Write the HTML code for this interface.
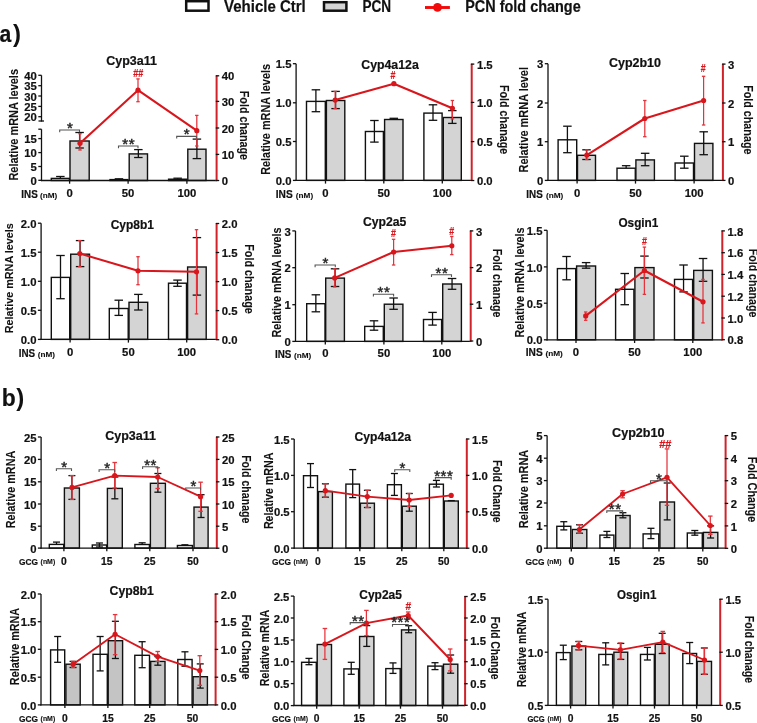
<!DOCTYPE html>
<html><head><meta charset="utf-8"><style>
html,body{margin:0;padding:0;background:#fff;}
svg{display:block;will-change:transform;}
text{font-family:"Liberation Sans", sans-serif;}
</style></head><body>
<svg width="757" height="723" viewBox="0 0 757 723">
<rect x="0" y="0" width="757" height="723" fill="#fff"/>
<rect x="186.2" y="1.2" width="22.3" height="9.5" fill="#fff" stroke="#111" stroke-width="2.5"/>
<text x="224.00" y="11.90" font-size="15.8" font-weight="bold" fill="#111" text-anchor="start" stroke="#111" stroke-width="0.2" textLength="81.8" lengthAdjust="spacingAndGlyphs" >Vehicle Ctrl</text>
<rect x="324" y="2.2" width="22.4" height="8.5" fill="#d4d4d4" stroke="#111" stroke-width="2.5"/>
<text x="362.40" y="11.90" font-size="15.8" font-weight="bold" fill="#111" text-anchor="start" stroke="#111" stroke-width="0.2" textLength="28.7" lengthAdjust="spacingAndGlyphs" >PCN</text>
<line x1="425.00" y1="7.50" x2="449.90" y2="7.50" stroke="#f20a0a" stroke-width="2.9" />
<circle cx="437.5" cy="7.4" r="4.4" fill="#f20a0a"/>
<text x="465.20" y="11.90" font-size="15.8" font-weight="bold" fill="#111" text-anchor="start" stroke="#111" stroke-width="0.2" textLength="115.5" lengthAdjust="spacingAndGlyphs" >PCN fold change</text>
<text x="-0.60" y="41.80" font-size="24" font-weight="bold" fill="#111" text-anchor="start" stroke="#111" stroke-width="0.2" textLength="11.8" lengthAdjust="spacingAndGlyphs" >a</text>
<text x="12.90" y="41.60" font-size="24" font-weight="bold" fill="#111" text-anchor="start" >)</text>
<text x="1.70" y="405.90" font-size="24" font-weight="bold" fill="#111" text-anchor="start" stroke="#111" stroke-width="0.2" textLength="14" lengthAdjust="spacingAndGlyphs" >b</text>
<text x="16.30" y="405.90" font-size="24" font-weight="bold" fill="#111" text-anchor="start" >)</text>
<rect x="51.30" y="178.40" width="18.10" height="2.10" fill="#fff" stroke="#111" stroke-width="1.4"/>
<rect x="110.00" y="179.60" width="17.90" height="0.90" fill="#fff" stroke="#111" stroke-width="1.4"/>
<rect x="168.60" y="179.20" width="18.10" height="1.30" fill="#fff" stroke="#111" stroke-width="1.4"/>
<rect x="70.00" y="141.00" width="19.20" height="39.50" fill="#d4d4d4" stroke="#111" stroke-width="1.4"/>
<rect x="129.20" y="153.90" width="18.30" height="26.60" fill="#d4d4d4" stroke="#111" stroke-width="1.4"/>
<rect x="187.80" y="149.20" width="18.20" height="31.30" fill="#d4d4d4" stroke="#111" stroke-width="1.4"/>
<line x1="60.35" y1="176.50" x2="60.35" y2="178.40" stroke="#111" stroke-width="1.3" />
<line x1="56.10" y1="176.50" x2="64.60" y2="176.50" stroke="#111" stroke-width="1.3" />
<line x1="118.95" y1="178.80" x2="118.95" y2="179.60" stroke="#111" stroke-width="1.3" />
<line x1="114.70" y1="178.80" x2="123.20" y2="178.80" stroke="#111" stroke-width="1.3" />
<line x1="177.65" y1="178.20" x2="177.65" y2="179.20" stroke="#111" stroke-width="1.3" />
<line x1="173.40" y1="178.20" x2="181.90" y2="178.20" stroke="#111" stroke-width="1.3" />
<line x1="79.60" y1="132.50" x2="79.60" y2="148.00" stroke="#111" stroke-width="1.3" />
<line x1="75.35" y1="132.50" x2="83.85" y2="132.50" stroke="#111" stroke-width="1.3" />
<line x1="75.35" y1="148.00" x2="83.85" y2="148.00" stroke="#111" stroke-width="1.3" />
<line x1="138.35" y1="149.60" x2="138.35" y2="157.50" stroke="#111" stroke-width="1.3" />
<line x1="134.10" y1="149.60" x2="142.60" y2="149.60" stroke="#111" stroke-width="1.3" />
<line x1="134.10" y1="157.50" x2="142.60" y2="157.50" stroke="#111" stroke-width="1.3" />
<line x1="196.90" y1="139.10" x2="196.90" y2="158.60" stroke="#111" stroke-width="1.3" />
<line x1="192.65" y1="139.10" x2="201.15" y2="139.10" stroke="#111" stroke-width="1.3" />
<line x1="192.65" y1="158.60" x2="201.15" y2="158.60" stroke="#111" stroke-width="1.3" />
<line x1="41.50" y1="75.30" x2="41.50" y2="121.60" stroke="#111" stroke-width="1.3" />
<line x1="41.50" y1="129.20" x2="41.50" y2="181.10" stroke="#111" stroke-width="1.3" />
<line x1="38.30" y1="75.30" x2="41.50" y2="75.30" stroke="#111" stroke-width="1.3" />
<text x="36.90" y="79.90" font-size="11.3" font-weight="bold" fill="#111" text-anchor="end" stroke="#111" stroke-width="0.2" >40</text>
<line x1="38.30" y1="85.70" x2="41.50" y2="85.70" stroke="#111" stroke-width="1.3" />
<text x="36.90" y="90.30" font-size="11.3" font-weight="bold" fill="#111" text-anchor="end" stroke="#111" stroke-width="0.2" >35</text>
<line x1="38.30" y1="96.00" x2="41.50" y2="96.00" stroke="#111" stroke-width="1.3" />
<text x="36.90" y="100.60" font-size="11.3" font-weight="bold" fill="#111" text-anchor="end" stroke="#111" stroke-width="0.2" >30</text>
<line x1="38.30" y1="106.40" x2="41.50" y2="106.40" stroke="#111" stroke-width="1.3" />
<text x="36.90" y="111.00" font-size="11.3" font-weight="bold" fill="#111" text-anchor="end" stroke="#111" stroke-width="0.2" >25</text>
<line x1="38.30" y1="116.70" x2="41.50" y2="116.70" stroke="#111" stroke-width="1.3" />
<text x="36.90" y="121.30" font-size="11.3" font-weight="bold" fill="#111" text-anchor="end" stroke="#111" stroke-width="0.2" >20</text>
<line x1="38.30" y1="129.20" x2="41.50" y2="129.20" stroke="#111" stroke-width="1.3" />
<line x1="38.30" y1="138.60" x2="41.50" y2="138.60" stroke="#111" stroke-width="1.3" />
<text x="36.90" y="143.20" font-size="11.3" font-weight="bold" fill="#111" text-anchor="end" stroke="#111" stroke-width="0.2" >15</text>
<line x1="38.30" y1="152.60" x2="41.50" y2="152.60" stroke="#111" stroke-width="1.3" />
<text x="36.90" y="157.20" font-size="11.3" font-weight="bold" fill="#111" text-anchor="end" stroke="#111" stroke-width="0.2" >10</text>
<line x1="38.30" y1="166.50" x2="41.50" y2="166.50" stroke="#111" stroke-width="1.3" />
<text x="36.90" y="171.10" font-size="11.3" font-weight="bold" fill="#111" text-anchor="end" stroke="#111" stroke-width="0.2" >5</text>
<line x1="38.30" y1="180.30" x2="41.50" y2="180.30" stroke="#111" stroke-width="1.3" />
<text x="36.90" y="184.90" font-size="11.3" font-weight="bold" fill="#111" text-anchor="end" stroke="#111" stroke-width="0.2" >0</text>
<line x1="38.50" y1="121.00" x2="44.00" y2="121.00" stroke="#111" stroke-width="1.3" />
<line x1="40.90" y1="180.50" x2="216.60" y2="180.50" stroke="#111" stroke-width="1.3" />
<line x1="69.60" y1="180.50" x2="69.60" y2="183.70" stroke="#111" stroke-width="1.3" />
<line x1="128.10" y1="180.50" x2="128.10" y2="183.70" stroke="#111" stroke-width="1.3" />
<line x1="186.90" y1="180.50" x2="186.90" y2="183.70" stroke="#111" stroke-width="1.3" />
<line x1="216.60" y1="75.50" x2="216.60" y2="181.10" stroke="#cf2229" stroke-width="2.0" />
<line x1="215.80" y1="75.80" x2="219.20" y2="75.80" stroke="#111" stroke-width="1.3" />
<text x="221.80" y="80.40" font-size="11.3" font-weight="bold" fill="#111" text-anchor="start" stroke="#111" stroke-width="0.2" >40</text>
<line x1="215.80" y1="101.40" x2="219.20" y2="101.40" stroke="#111" stroke-width="1.3" />
<text x="221.80" y="106.00" font-size="11.3" font-weight="bold" fill="#111" text-anchor="start" stroke="#111" stroke-width="0.2" >30</text>
<line x1="215.80" y1="128.00" x2="219.20" y2="128.00" stroke="#111" stroke-width="1.3" />
<text x="221.80" y="132.60" font-size="11.3" font-weight="bold" fill="#111" text-anchor="start" stroke="#111" stroke-width="0.2" >20</text>
<line x1="215.80" y1="154.40" x2="219.20" y2="154.40" stroke="#111" stroke-width="1.3" />
<text x="221.80" y="159.00" font-size="11.3" font-weight="bold" fill="#111" text-anchor="start" stroke="#111" stroke-width="0.2" >10</text>
<line x1="215.80" y1="180.50" x2="219.20" y2="180.50" stroke="#111" stroke-width="1.3" />
<text x="221.80" y="185.10" font-size="11.3" font-weight="bold" fill="#111" text-anchor="start" stroke="#111" stroke-width="0.2" >0</text>
<line x1="80.00" y1="133.70" x2="80.00" y2="150.00" stroke="#e6323a" stroke-width="1.25" />
<line x1="78.30" y1="133.70" x2="81.70" y2="133.70" stroke="#e6323a" stroke-width="1.3" />
<line x1="78.30" y1="150.00" x2="81.70" y2="150.00" stroke="#e6323a" stroke-width="1.3" />
<line x1="138.00" y1="78.90" x2="138.00" y2="101.70" stroke="#e6323a" stroke-width="1.25" />
<line x1="136.30" y1="78.90" x2="139.70" y2="78.90" stroke="#e6323a" stroke-width="1.3" />
<line x1="136.30" y1="101.70" x2="139.70" y2="101.70" stroke="#e6323a" stroke-width="1.3" />
<line x1="196.80" y1="115.40" x2="196.80" y2="146.00" stroke="#e6323a" stroke-width="1.25" />
<line x1="195.10" y1="115.40" x2="198.50" y2="115.40" stroke="#e6323a" stroke-width="1.3" />
<line x1="195.10" y1="146.00" x2="198.50" y2="146.00" stroke="#e6323a" stroke-width="1.3" />
<polyline points="80.00,143.30 138.00,90.20 196.80,130.70" fill="none" stroke="#d8161c" stroke-width="2.1" stroke-linejoin="round"/>
<circle cx="80.00" cy="143.30" r="2.6" fill="#d8161c"/>
<circle cx="138.00" cy="90.20" r="2.6" fill="#d8161c"/>
<circle cx="196.80" cy="130.70" r="2.6" fill="#d8161c"/>
<polyline points="59.70,132.20 59.70,130.00 79.50,130.00 79.50,132.20" fill="none" stroke="#555" stroke-width="1.1"/>
<text x="70.05" y="132.91" font-size="15" font-weight="normal" fill="#222" text-anchor="middle" stroke="#222" stroke-width="0.45" letter-spacing="0.5">*</text>
<polyline points="118.50,148.20 118.50,146.00 138.00,146.00 138.00,148.20" fill="none" stroke="#555" stroke-width="1.1"/>
<text x="128.70" y="148.91" font-size="15" font-weight="normal" fill="#222" text-anchor="middle" stroke="#222" stroke-width="0.45" letter-spacing="0.5">**</text>
<polyline points="176.70,138.60 176.70,136.40 196.40,136.40 196.40,138.60" fill="none" stroke="#555" stroke-width="1.1"/>
<text x="187.00" y="139.31" font-size="15" font-weight="normal" fill="#222" text-anchor="middle" stroke="#222" stroke-width="0.45" letter-spacing="0.5">*</text>
<text x="138.20" y="77.20" font-size="10" font-weight="bold" fill="#d8161c" text-anchor="middle" stroke="#d8161c" stroke-width="0.2" textLength="10" lengthAdjust="spacingAndGlyphs" >##</text>
<text x="131.60" y="64.90" font-size="12.4" font-weight="bold" fill="#111" text-anchor="middle" stroke="#111" stroke-width="0.2" textLength="50.7" lengthAdjust="spacingAndGlyphs" >Cyp3a11</text>
<text x="18.00" y="124.80" font-size="12" font-weight="bold" fill="#111" text-anchor="middle" stroke="#111" stroke-width="0.1" textLength="111.6" lengthAdjust="spacingAndGlyphs" transform="rotate(-90 18.00 124.80)" >Relative mRNA levels</text>
<text x="239.50" y="125.40" font-size="12.5" font-weight="bold" fill="#111" text-anchor="middle" stroke="#111" stroke-width="0.1" textLength="69.2" lengthAdjust="spacingAndGlyphs" transform="rotate(90 239.50 125.40)" >Fold chanage</text>
<text x="69.60" y="197.00" font-size="11.3" font-weight="bold" fill="#111" text-anchor="middle" stroke="#111" stroke-width="0.2" >0</text>
<text x="128.10" y="197.00" font-size="11.3" font-weight="bold" fill="#111" text-anchor="middle" stroke="#111" stroke-width="0.2" >50</text>
<text x="186.90" y="197.00" font-size="11.3" font-weight="bold" fill="#111" text-anchor="middle" stroke="#111" stroke-width="0.2" >100</text>
<text x="21.30" y="197.50" font-size="10.9" font-weight="bold" fill="#111" text-anchor="start" stroke="#111" stroke-width="0.2" textLength="16.4" lengthAdjust="spacingAndGlyphs" >INS</text>
<text x="40.00" y="197.50" font-size="7.6" font-weight="bold" fill="#111" text-anchor="start" stroke="#111" stroke-width="0.1" textLength="17.3" lengthAdjust="spacingAndGlyphs" >(nM)</text>
<rect x="306.50" y="101.40" width="18.80" height="79.00" fill="#fff" stroke="#111" stroke-width="1.4"/>
<rect x="365.40" y="131.50" width="18.00" height="48.90" fill="#fff" stroke="#111" stroke-width="1.4"/>
<rect x="423.90" y="113.10" width="18.20" height="67.30" fill="#fff" stroke="#111" stroke-width="1.4"/>
<rect x="326.40" y="100.50" width="18.40" height="79.90" fill="#d4d4d4" stroke="#111" stroke-width="1.4"/>
<rect x="384.60" y="119.50" width="18.40" height="60.90" fill="#d4d4d4" stroke="#111" stroke-width="1.4"/>
<rect x="443.30" y="117.50" width="18.00" height="62.90" fill="#d4d4d4" stroke="#111" stroke-width="1.4"/>
<line x1="315.90" y1="89.80" x2="315.90" y2="111.70" stroke="#111" stroke-width="1.3" />
<line x1="311.65" y1="89.80" x2="320.15" y2="89.80" stroke="#111" stroke-width="1.3" />
<line x1="311.65" y1="111.70" x2="320.15" y2="111.70" stroke="#111" stroke-width="1.3" />
<line x1="374.40" y1="120.50" x2="374.40" y2="142.10" stroke="#111" stroke-width="1.3" />
<line x1="370.15" y1="120.50" x2="378.65" y2="120.50" stroke="#111" stroke-width="1.3" />
<line x1="370.15" y1="142.10" x2="378.65" y2="142.10" stroke="#111" stroke-width="1.3" />
<line x1="433.00" y1="104.80" x2="433.00" y2="120.30" stroke="#111" stroke-width="1.3" />
<line x1="428.75" y1="104.80" x2="437.25" y2="104.80" stroke="#111" stroke-width="1.3" />
<line x1="428.75" y1="120.30" x2="437.25" y2="120.30" stroke="#111" stroke-width="1.3" />
<line x1="335.60" y1="91.40" x2="335.60" y2="108.60" stroke="#111" stroke-width="1.3" />
<line x1="331.35" y1="91.40" x2="339.85" y2="91.40" stroke="#111" stroke-width="1.3" />
<line x1="331.35" y1="108.60" x2="339.85" y2="108.60" stroke="#111" stroke-width="1.3" />
<line x1="393.80" y1="118.30" x2="393.80" y2="119.50" stroke="#111" stroke-width="1.3" />
<line x1="389.55" y1="118.30" x2="398.05" y2="118.30" stroke="#111" stroke-width="1.3" />
<line x1="452.30" y1="110.60" x2="452.30" y2="123.40" stroke="#111" stroke-width="1.3" />
<line x1="448.05" y1="110.60" x2="456.55" y2="110.60" stroke="#111" stroke-width="1.3" />
<line x1="448.05" y1="123.40" x2="456.55" y2="123.40" stroke="#111" stroke-width="1.3" />
<line x1="296.10" y1="63.70" x2="296.10" y2="181.00" stroke="#111" stroke-width="1.3" />
<line x1="292.90" y1="63.70" x2="296.10" y2="63.70" stroke="#111" stroke-width="1.3" />
<text x="291.50" y="68.30" font-size="11.3" font-weight="bold" fill="#111" text-anchor="end" stroke="#111" stroke-width="0.2" >1.5</text>
<line x1="292.90" y1="102.80" x2="296.10" y2="102.80" stroke="#111" stroke-width="1.3" />
<text x="291.50" y="107.40" font-size="11.3" font-weight="bold" fill="#111" text-anchor="end" stroke="#111" stroke-width="0.2" >1.0</text>
<line x1="292.90" y1="141.50" x2="296.10" y2="141.50" stroke="#111" stroke-width="1.3" />
<text x="291.50" y="146.10" font-size="11.3" font-weight="bold" fill="#111" text-anchor="end" stroke="#111" stroke-width="0.2" >0.5</text>
<line x1="292.90" y1="180.40" x2="296.10" y2="180.40" stroke="#111" stroke-width="1.3" />
<text x="291.50" y="185.00" font-size="11.3" font-weight="bold" fill="#111" text-anchor="end" stroke="#111" stroke-width="0.2" >0.0</text>
<line x1="295.50" y1="180.40" x2="471.70" y2="180.40" stroke="#111" stroke-width="1.3" />
<line x1="325.50" y1="180.40" x2="325.50" y2="183.60" stroke="#111" stroke-width="1.3" />
<line x1="383.80" y1="180.40" x2="383.80" y2="183.60" stroke="#111" stroke-width="1.3" />
<line x1="442.30" y1="180.40" x2="442.30" y2="183.60" stroke="#111" stroke-width="1.3" />
<line x1="471.70" y1="63.80" x2="471.70" y2="181.00" stroke="#cf2229" stroke-width="2.0" />
<line x1="470.90" y1="64.10" x2="474.30" y2="64.10" stroke="#111" stroke-width="1.3" />
<text x="476.90" y="68.70" font-size="11.3" font-weight="bold" fill="#111" text-anchor="start" stroke="#111" stroke-width="0.2" >1.5</text>
<line x1="470.90" y1="102.40" x2="474.30" y2="102.40" stroke="#111" stroke-width="1.3" />
<text x="476.90" y="107.00" font-size="11.3" font-weight="bold" fill="#111" text-anchor="start" stroke="#111" stroke-width="0.2" >1.0</text>
<line x1="470.90" y1="141.60" x2="474.30" y2="141.60" stroke="#111" stroke-width="1.3" />
<text x="476.90" y="146.20" font-size="11.3" font-weight="bold" fill="#111" text-anchor="start" stroke="#111" stroke-width="0.2" >0.5</text>
<line x1="470.90" y1="180.50" x2="474.30" y2="180.50" stroke="#111" stroke-width="1.3" />
<text x="476.90" y="185.10" font-size="11.3" font-weight="bold" fill="#111" text-anchor="start" stroke="#111" stroke-width="0.2" >0.0</text>
<line x1="335.20" y1="91.40" x2="335.20" y2="108.60" stroke="#e6323a" stroke-width="1.25" />
<line x1="333.50" y1="91.40" x2="336.90" y2="91.40" stroke="#e6323a" stroke-width="1.3" />
<line x1="333.50" y1="108.60" x2="336.90" y2="108.60" stroke="#e6323a" stroke-width="1.3" />
<line x1="452.40" y1="100.50" x2="452.40" y2="118.90" stroke="#e6323a" stroke-width="1.25" />
<line x1="450.70" y1="100.50" x2="454.10" y2="100.50" stroke="#e6323a" stroke-width="1.3" />
<line x1="450.70" y1="118.90" x2="454.10" y2="118.90" stroke="#e6323a" stroke-width="1.3" />
<polyline points="335.20,100.10 393.90,83.70 452.40,108.30" fill="none" stroke="#d8161c" stroke-width="2.1" stroke-linejoin="round"/>
<circle cx="335.20" cy="100.10" r="2.6" fill="#d8161c"/>
<circle cx="393.90" cy="83.70" r="2.6" fill="#d8161c"/>
<circle cx="452.40" cy="108.30" r="2.6" fill="#d8161c"/>
<text x="393.00" y="78.80" font-size="10" font-weight="bold" fill="#d8161c" text-anchor="middle" stroke="#d8161c" stroke-width="0.2" textLength="4.9" lengthAdjust="spacingAndGlyphs" >#</text>
<text x="390.00" y="68.80" font-size="12.4" font-weight="bold" fill="#111" text-anchor="middle" stroke="#111" stroke-width="0.2" textLength="57.5" lengthAdjust="spacingAndGlyphs" >Cyp4a12a</text>
<text x="270.40" y="119.40" font-size="12" font-weight="bold" fill="#111" text-anchor="middle" stroke="#111" stroke-width="0.1" textLength="110.8" lengthAdjust="spacingAndGlyphs" transform="rotate(-90 270.40 119.40)" >Relative mRNA levels</text>
<text x="499.50" y="119.60" font-size="12.5" font-weight="bold" fill="#111" text-anchor="middle" stroke="#111" stroke-width="0.1" textLength="69.3" lengthAdjust="spacingAndGlyphs" transform="rotate(90 499.50 119.60)" >Fold chanage</text>
<text x="325.50" y="197.00" font-size="11.3" font-weight="bold" fill="#111" text-anchor="middle" stroke="#111" stroke-width="0.2" >0</text>
<text x="383.80" y="197.00" font-size="11.3" font-weight="bold" fill="#111" text-anchor="middle" stroke="#111" stroke-width="0.2" >50</text>
<text x="442.30" y="197.00" font-size="11.3" font-weight="bold" fill="#111" text-anchor="middle" stroke="#111" stroke-width="0.2" >100</text>
<text x="275.80" y="197.50" font-size="10.9" font-weight="bold" fill="#111" text-anchor="start" stroke="#111" stroke-width="0.2" textLength="16.9" lengthAdjust="spacingAndGlyphs" >INS</text>
<text x="295.80" y="197.50" font-size="7.6" font-weight="bold" fill="#111" text-anchor="start" stroke="#111" stroke-width="0.1" textLength="17.4" lengthAdjust="spacingAndGlyphs" >(nM)</text>
<rect x="558.10" y="139.80" width="18.60" height="40.60" fill="#fff" stroke="#111" stroke-width="1.4"/>
<rect x="617.00" y="168.20" width="18.30" height="12.20" fill="#fff" stroke="#111" stroke-width="1.4"/>
<rect x="675.10" y="163.00" width="18.40" height="17.40" fill="#fff" stroke="#111" stroke-width="1.4"/>
<rect x="577.50" y="155.30" width="18.00" height="25.10" fill="#d4d4d4" stroke="#111" stroke-width="1.4"/>
<rect x="635.90" y="159.90" width="18.50" height="20.50" fill="#d4d4d4" stroke="#111" stroke-width="1.4"/>
<rect x="694.50" y="143.40" width="18.40" height="37.00" fill="#d4d4d4" stroke="#111" stroke-width="1.4"/>
<line x1="567.40" y1="126.20" x2="567.40" y2="152.70" stroke="#111" stroke-width="1.3" />
<line x1="563.15" y1="126.20" x2="571.65" y2="126.20" stroke="#111" stroke-width="1.3" />
<line x1="563.15" y1="152.70" x2="571.65" y2="152.70" stroke="#111" stroke-width="1.3" />
<line x1="626.15" y1="165.70" x2="626.15" y2="168.20" stroke="#111" stroke-width="1.3" />
<line x1="621.90" y1="165.70" x2="630.40" y2="165.70" stroke="#111" stroke-width="1.3" />
<line x1="684.30" y1="156.20" x2="684.30" y2="168.20" stroke="#111" stroke-width="1.3" />
<line x1="680.05" y1="156.20" x2="688.55" y2="156.20" stroke="#111" stroke-width="1.3" />
<line x1="680.05" y1="168.20" x2="688.55" y2="168.20" stroke="#111" stroke-width="1.3" />
<line x1="586.50" y1="149.80" x2="586.50" y2="159.50" stroke="#111" stroke-width="1.3" />
<line x1="582.25" y1="149.80" x2="590.75" y2="149.80" stroke="#111" stroke-width="1.3" />
<line x1="582.25" y1="159.50" x2="590.75" y2="159.50" stroke="#111" stroke-width="1.3" />
<line x1="645.15" y1="153.30" x2="645.15" y2="165.70" stroke="#111" stroke-width="1.3" />
<line x1="640.90" y1="153.30" x2="649.40" y2="153.30" stroke="#111" stroke-width="1.3" />
<line x1="640.90" y1="165.70" x2="649.40" y2="165.70" stroke="#111" stroke-width="1.3" />
<line x1="703.70" y1="131.80" x2="703.70" y2="154.70" stroke="#111" stroke-width="1.3" />
<line x1="699.45" y1="131.80" x2="707.95" y2="131.80" stroke="#111" stroke-width="1.3" />
<line x1="699.45" y1="154.70" x2="707.95" y2="154.70" stroke="#111" stroke-width="1.3" />
<line x1="548.00" y1="63.70" x2="548.00" y2="181.00" stroke="#111" stroke-width="1.3" />
<line x1="544.80" y1="63.70" x2="548.00" y2="63.70" stroke="#111" stroke-width="1.3" />
<text x="543.40" y="68.30" font-size="11.3" font-weight="bold" fill="#111" text-anchor="end" stroke="#111" stroke-width="0.2" >3</text>
<line x1="544.80" y1="103.00" x2="548.00" y2="103.00" stroke="#111" stroke-width="1.3" />
<text x="543.40" y="107.60" font-size="11.3" font-weight="bold" fill="#111" text-anchor="end" stroke="#111" stroke-width="0.2" >2</text>
<line x1="544.80" y1="141.70" x2="548.00" y2="141.70" stroke="#111" stroke-width="1.3" />
<text x="543.40" y="146.30" font-size="11.3" font-weight="bold" fill="#111" text-anchor="end" stroke="#111" stroke-width="0.2" >1</text>
<line x1="544.80" y1="180.40" x2="548.00" y2="180.40" stroke="#111" stroke-width="1.3" />
<text x="543.40" y="185.00" font-size="11.3" font-weight="bold" fill="#111" text-anchor="end" stroke="#111" stroke-width="0.2" >0</text>
<line x1="547.40" y1="180.40" x2="722.90" y2="180.40" stroke="#111" stroke-width="1.3" />
<line x1="577.10" y1="180.40" x2="577.10" y2="183.60" stroke="#111" stroke-width="1.3" />
<line x1="635.50" y1="180.40" x2="635.50" y2="183.60" stroke="#111" stroke-width="1.3" />
<line x1="694.10" y1="180.40" x2="694.10" y2="183.60" stroke="#111" stroke-width="1.3" />
<line x1="722.90" y1="63.80" x2="722.90" y2="181.00" stroke="#cf2229" stroke-width="2.0" />
<line x1="722.10" y1="64.10" x2="725.50" y2="64.10" stroke="#111" stroke-width="1.3" />
<text x="728.10" y="68.70" font-size="11.3" font-weight="bold" fill="#111" text-anchor="start" stroke="#111" stroke-width="0.2" >3</text>
<line x1="722.10" y1="103.00" x2="725.50" y2="103.00" stroke="#111" stroke-width="1.3" />
<text x="728.10" y="107.60" font-size="11.3" font-weight="bold" fill="#111" text-anchor="start" stroke="#111" stroke-width="0.2" >2</text>
<line x1="722.10" y1="141.70" x2="725.50" y2="141.70" stroke="#111" stroke-width="1.3" />
<text x="728.10" y="146.30" font-size="11.3" font-weight="bold" fill="#111" text-anchor="start" stroke="#111" stroke-width="0.2" >1</text>
<line x1="722.10" y1="180.40" x2="725.50" y2="180.40" stroke="#111" stroke-width="1.3" />
<text x="728.10" y="185.00" font-size="11.3" font-weight="bold" fill="#111" text-anchor="start" stroke="#111" stroke-width="0.2" >0</text>
<line x1="586.80" y1="149.80" x2="586.80" y2="159.50" stroke="#e6323a" stroke-width="1.25" />
<line x1="585.10" y1="149.80" x2="588.50" y2="149.80" stroke="#e6323a" stroke-width="1.3" />
<line x1="585.10" y1="159.50" x2="588.50" y2="159.50" stroke="#e6323a" stroke-width="1.3" />
<line x1="644.80" y1="100.50" x2="644.80" y2="136.70" stroke="#e6323a" stroke-width="1.25" />
<line x1="643.10" y1="100.50" x2="646.50" y2="100.50" stroke="#e6323a" stroke-width="1.3" />
<line x1="643.10" y1="136.70" x2="646.50" y2="136.70" stroke="#e6323a" stroke-width="1.3" />
<line x1="703.60" y1="76.30" x2="703.60" y2="125.00" stroke="#e6323a" stroke-width="1.25" />
<line x1="701.90" y1="76.30" x2="705.30" y2="76.30" stroke="#e6323a" stroke-width="1.3" />
<line x1="701.90" y1="125.00" x2="705.30" y2="125.00" stroke="#e6323a" stroke-width="1.3" />
<polyline points="586.80,155.10 644.80,118.50 703.60,100.50" fill="none" stroke="#d8161c" stroke-width="2.1" stroke-linejoin="round"/>
<circle cx="586.80" cy="155.10" r="2.6" fill="#d8161c"/>
<circle cx="644.80" cy="118.50" r="2.6" fill="#d8161c"/>
<circle cx="703.60" cy="100.50" r="2.6" fill="#d8161c"/>
<text x="703.20" y="71.90" font-size="10" font-weight="bold" fill="#d8161c" text-anchor="middle" stroke="#d8161c" stroke-width="0.2" textLength="4.9" lengthAdjust="spacingAndGlyphs" >#</text>
<text x="635.00" y="67.10" font-size="12.4" font-weight="bold" fill="#111" text-anchor="middle" stroke="#111" stroke-width="0.2" textLength="52" lengthAdjust="spacingAndGlyphs" >Cyp2b10</text>
<text x="528.20" y="119.70" font-size="12" font-weight="bold" fill="#111" text-anchor="middle" stroke="#111" stroke-width="0.1" textLength="105.4" lengthAdjust="spacingAndGlyphs" transform="rotate(-90 528.20 119.70)" >Relative mRNA level</text>
<text x="743.50" y="119.80" font-size="12.5" font-weight="bold" fill="#111" text-anchor="middle" stroke="#111" stroke-width="0.1" textLength="69.3" lengthAdjust="spacingAndGlyphs" transform="rotate(90 743.50 119.80)" >Fold chanage</text>
<text x="577.10" y="197.00" font-size="11.3" font-weight="bold" fill="#111" text-anchor="middle" stroke="#111" stroke-width="0.2" >0</text>
<text x="635.50" y="197.00" font-size="11.3" font-weight="bold" fill="#111" text-anchor="middle" stroke="#111" stroke-width="0.2" >50</text>
<text x="694.10" y="197.00" font-size="11.3" font-weight="bold" fill="#111" text-anchor="middle" stroke="#111" stroke-width="0.2" >100</text>
<text x="526.30" y="197.50" font-size="10.9" font-weight="bold" fill="#111" text-anchor="start" stroke="#111" stroke-width="0.2" textLength="16.4" lengthAdjust="spacingAndGlyphs" >INS</text>
<text x="545.90" y="197.50" font-size="7.6" font-weight="bold" fill="#111" text-anchor="start" stroke="#111" stroke-width="0.1" textLength="17.4" lengthAdjust="spacingAndGlyphs" >(nM)</text>
<rect x="51.30" y="277.40" width="18.40" height="62.00" fill="#fff" stroke="#111" stroke-width="1.4"/>
<rect x="109.30" y="308.50" width="18.90" height="30.90" fill="#fff" stroke="#111" stroke-width="1.4"/>
<rect x="168.50" y="283.20" width="18.00" height="56.20" fill="#fff" stroke="#111" stroke-width="1.4"/>
<rect x="70.70" y="254.20" width="18.80" height="85.20" fill="#d4d4d4" stroke="#111" stroke-width="1.4"/>
<rect x="129.00" y="302.30" width="18.70" height="37.10" fill="#d4d4d4" stroke="#111" stroke-width="1.4"/>
<rect x="187.60" y="267.00" width="18.60" height="72.40" fill="#d4d4d4" stroke="#111" stroke-width="1.4"/>
<line x1="60.50" y1="255.50" x2="60.50" y2="298.70" stroke="#111" stroke-width="1.3" />
<line x1="56.25" y1="255.50" x2="64.75" y2="255.50" stroke="#111" stroke-width="1.3" />
<line x1="56.25" y1="298.70" x2="64.75" y2="298.70" stroke="#111" stroke-width="1.3" />
<line x1="118.75" y1="300.20" x2="118.75" y2="315.40" stroke="#111" stroke-width="1.3" />
<line x1="114.50" y1="300.20" x2="123.00" y2="300.20" stroke="#111" stroke-width="1.3" />
<line x1="114.50" y1="315.40" x2="123.00" y2="315.40" stroke="#111" stroke-width="1.3" />
<line x1="177.50" y1="280.10" x2="177.50" y2="286.30" stroke="#111" stroke-width="1.3" />
<line x1="173.25" y1="280.10" x2="181.75" y2="280.10" stroke="#111" stroke-width="1.3" />
<line x1="173.25" y1="286.30" x2="181.75" y2="286.30" stroke="#111" stroke-width="1.3" />
<line x1="80.10" y1="240.60" x2="80.10" y2="266.60" stroke="#111" stroke-width="1.3" />
<line x1="75.85" y1="240.60" x2="84.35" y2="240.60" stroke="#111" stroke-width="1.3" />
<line x1="75.85" y1="266.60" x2="84.35" y2="266.60" stroke="#111" stroke-width="1.3" />
<line x1="138.35" y1="294.40" x2="138.35" y2="310.00" stroke="#111" stroke-width="1.3" />
<line x1="134.10" y1="294.40" x2="142.60" y2="294.40" stroke="#111" stroke-width="1.3" />
<line x1="134.10" y1="310.00" x2="142.60" y2="310.00" stroke="#111" stroke-width="1.3" />
<line x1="196.90" y1="237.60" x2="196.90" y2="295.10" stroke="#111" stroke-width="1.3" />
<line x1="192.65" y1="237.60" x2="201.15" y2="237.60" stroke="#111" stroke-width="1.3" />
<line x1="192.65" y1="295.10" x2="201.15" y2="295.10" stroke="#111" stroke-width="1.3" />
<line x1="41.10" y1="223.20" x2="41.10" y2="340.00" stroke="#111" stroke-width="1.3" />
<line x1="37.90" y1="223.20" x2="41.10" y2="223.20" stroke="#111" stroke-width="1.3" />
<text x="36.50" y="227.80" font-size="11.3" font-weight="bold" fill="#111" text-anchor="end" stroke="#111" stroke-width="0.2" >2.0</text>
<line x1="37.90" y1="252.20" x2="41.10" y2="252.20" stroke="#111" stroke-width="1.3" />
<text x="36.50" y="256.80" font-size="11.3" font-weight="bold" fill="#111" text-anchor="end" stroke="#111" stroke-width="0.2" >1.5</text>
<line x1="37.90" y1="281.30" x2="41.10" y2="281.30" stroke="#111" stroke-width="1.3" />
<text x="36.50" y="285.90" font-size="11.3" font-weight="bold" fill="#111" text-anchor="end" stroke="#111" stroke-width="0.2" >1.0</text>
<line x1="37.90" y1="310.30" x2="41.10" y2="310.30" stroke="#111" stroke-width="1.3" />
<text x="36.50" y="314.90" font-size="11.3" font-weight="bold" fill="#111" text-anchor="end" stroke="#111" stroke-width="0.2" >0.5</text>
<line x1="37.90" y1="339.40" x2="41.10" y2="339.40" stroke="#111" stroke-width="1.3" />
<text x="36.50" y="344.00" font-size="11.3" font-weight="bold" fill="#111" text-anchor="end" stroke="#111" stroke-width="0.2" >0.0</text>
<line x1="40.50" y1="339.40" x2="216.60" y2="339.40" stroke="#111" stroke-width="1.3" />
<line x1="70.10" y1="339.40" x2="70.10" y2="342.60" stroke="#111" stroke-width="1.3" />
<line x1="128.40" y1="339.40" x2="128.40" y2="342.60" stroke="#111" stroke-width="1.3" />
<line x1="186.70" y1="339.40" x2="186.70" y2="342.60" stroke="#111" stroke-width="1.3" />
<line x1="216.60" y1="223.20" x2="216.60" y2="340.00" stroke="#cf2229" stroke-width="2.0" />
<line x1="215.80" y1="223.50" x2="219.20" y2="223.50" stroke="#111" stroke-width="1.3" />
<text x="221.80" y="228.10" font-size="11.3" font-weight="bold" fill="#111" text-anchor="start" stroke="#111" stroke-width="0.2" >2.0</text>
<line x1="215.80" y1="252.50" x2="219.20" y2="252.50" stroke="#111" stroke-width="1.3" />
<text x="221.80" y="257.10" font-size="11.3" font-weight="bold" fill="#111" text-anchor="start" stroke="#111" stroke-width="0.2" >1.5</text>
<line x1="215.80" y1="281.60" x2="219.20" y2="281.60" stroke="#111" stroke-width="1.3" />
<text x="221.80" y="286.20" font-size="11.3" font-weight="bold" fill="#111" text-anchor="start" stroke="#111" stroke-width="0.2" >1.0</text>
<line x1="215.80" y1="310.60" x2="219.20" y2="310.60" stroke="#111" stroke-width="1.3" />
<text x="221.80" y="315.20" font-size="11.3" font-weight="bold" fill="#111" text-anchor="start" stroke="#111" stroke-width="0.2" >0.5</text>
<line x1="215.80" y1="339.70" x2="219.20" y2="339.70" stroke="#111" stroke-width="1.3" />
<text x="221.80" y="344.30" font-size="11.3" font-weight="bold" fill="#111" text-anchor="start" stroke="#111" stroke-width="0.2" >0.0</text>
<line x1="79.80" y1="240.60" x2="79.80" y2="266.60" stroke="#e6323a" stroke-width="1.25" />
<line x1="78.10" y1="240.60" x2="81.50" y2="240.60" stroke="#e6323a" stroke-width="1.3" />
<line x1="78.10" y1="266.60" x2="81.50" y2="266.60" stroke="#e6323a" stroke-width="1.3" />
<line x1="138.00" y1="256.70" x2="138.00" y2="284.70" stroke="#e6323a" stroke-width="1.25" />
<line x1="136.30" y1="256.70" x2="139.70" y2="256.70" stroke="#e6323a" stroke-width="1.3" />
<line x1="136.30" y1="284.70" x2="139.70" y2="284.70" stroke="#e6323a" stroke-width="1.3" />
<line x1="196.50" y1="229.70" x2="196.50" y2="313.90" stroke="#e6323a" stroke-width="1.25" />
<line x1="194.80" y1="229.70" x2="198.20" y2="229.70" stroke="#e6323a" stroke-width="1.3" />
<line x1="194.80" y1="313.90" x2="198.20" y2="313.90" stroke="#e6323a" stroke-width="1.3" />
<polyline points="79.80,253.60 138.00,270.80 196.50,271.80" fill="none" stroke="#d8161c" stroke-width="2.1" stroke-linejoin="round"/>
<circle cx="79.80" cy="253.60" r="2.6" fill="#d8161c"/>
<circle cx="138.00" cy="270.80" r="2.6" fill="#d8161c"/>
<circle cx="196.50" cy="271.80" r="2.6" fill="#d8161c"/>
<text x="132.30" y="228.50" font-size="12.4" font-weight="bold" fill="#111" text-anchor="middle" stroke="#111" stroke-width="0.2" textLength="43.3" lengthAdjust="spacingAndGlyphs" >Cyp8b1</text>
<text x="13.20" y="278.20" font-size="11.0" font-weight="bold" fill="#111" text-anchor="middle" stroke="#111" stroke-width="0.1" textLength="110" lengthAdjust="spacingAndGlyphs" transform="rotate(-90 13.20 278.20)" >Relative mRNA levels</text>
<text x="244.80" y="279.00" font-size="12.5" font-weight="bold" fill="#111" text-anchor="middle" stroke="#111" stroke-width="0.1" textLength="69.5" lengthAdjust="spacingAndGlyphs" transform="rotate(90 244.80 279.00)" >Fold chanage</text>
<text x="70.10" y="356.20" font-size="11.3" font-weight="bold" fill="#111" text-anchor="middle" stroke="#111" stroke-width="0.2" >0</text>
<text x="128.40" y="356.20" font-size="11.3" font-weight="bold" fill="#111" text-anchor="middle" stroke="#111" stroke-width="0.2" >50</text>
<text x="186.70" y="356.20" font-size="11.3" font-weight="bold" fill="#111" text-anchor="middle" stroke="#111" stroke-width="0.2" >100</text>
<text x="18.70" y="356.70" font-size="10.9" font-weight="bold" fill="#111" text-anchor="start" stroke="#111" stroke-width="0.2" textLength="16.4" lengthAdjust="spacingAndGlyphs" >INS</text>
<text x="37.70" y="356.70" font-size="7.6" font-weight="bold" fill="#111" text-anchor="start" stroke="#111" stroke-width="0.1" textLength="17.3" lengthAdjust="spacingAndGlyphs" >(nM)</text>
<rect x="306.70" y="303.70" width="18.30" height="37.70" fill="#fff" stroke="#111" stroke-width="1.4"/>
<rect x="364.70" y="326.40" width="18.60" height="15.00" fill="#fff" stroke="#111" stroke-width="1.4"/>
<rect x="423.50" y="319.50" width="18.10" height="21.90" fill="#fff" stroke="#111" stroke-width="1.4"/>
<rect x="325.70" y="278.10" width="18.70" height="63.30" fill="#d4d4d4" stroke="#111" stroke-width="1.4"/>
<rect x="384.30" y="304.20" width="18.60" height="37.20" fill="#d4d4d4" stroke="#111" stroke-width="1.4"/>
<rect x="442.70" y="284.00" width="18.70" height="57.40" fill="#d4d4d4" stroke="#111" stroke-width="1.4"/>
<line x1="315.85" y1="294.80" x2="315.85" y2="311.80" stroke="#111" stroke-width="1.3" />
<line x1="311.60" y1="294.80" x2="320.10" y2="294.80" stroke="#111" stroke-width="1.3" />
<line x1="311.60" y1="311.80" x2="320.10" y2="311.80" stroke="#111" stroke-width="1.3" />
<line x1="374.00" y1="320.80" x2="374.00" y2="330.20" stroke="#111" stroke-width="1.3" />
<line x1="369.75" y1="320.80" x2="378.25" y2="320.80" stroke="#111" stroke-width="1.3" />
<line x1="369.75" y1="330.20" x2="378.25" y2="330.20" stroke="#111" stroke-width="1.3" />
<line x1="432.55" y1="312.40" x2="432.55" y2="325.10" stroke="#111" stroke-width="1.3" />
<line x1="428.30" y1="312.40" x2="436.80" y2="312.40" stroke="#111" stroke-width="1.3" />
<line x1="428.30" y1="325.10" x2="436.80" y2="325.10" stroke="#111" stroke-width="1.3" />
<line x1="335.05" y1="268.80" x2="335.05" y2="286.50" stroke="#111" stroke-width="1.3" />
<line x1="330.80" y1="268.80" x2="339.30" y2="268.80" stroke="#111" stroke-width="1.3" />
<line x1="330.80" y1="286.50" x2="339.30" y2="286.50" stroke="#111" stroke-width="1.3" />
<line x1="393.60" y1="298.00" x2="393.60" y2="309.30" stroke="#111" stroke-width="1.3" />
<line x1="389.35" y1="298.00" x2="397.85" y2="298.00" stroke="#111" stroke-width="1.3" />
<line x1="389.35" y1="309.30" x2="397.85" y2="309.30" stroke="#111" stroke-width="1.3" />
<line x1="452.05" y1="278.50" x2="452.05" y2="289.30" stroke="#111" stroke-width="1.3" />
<line x1="447.80" y1="278.50" x2="456.30" y2="278.50" stroke="#111" stroke-width="1.3" />
<line x1="447.80" y1="289.30" x2="456.30" y2="289.30" stroke="#111" stroke-width="1.3" />
<line x1="295.50" y1="230.90" x2="295.50" y2="342.00" stroke="#111" stroke-width="1.3" />
<line x1="292.30" y1="230.90" x2="295.50" y2="230.90" stroke="#111" stroke-width="1.3" />
<text x="290.90" y="235.50" font-size="11.3" font-weight="bold" fill="#111" text-anchor="end" stroke="#111" stroke-width="0.2" >3</text>
<line x1="292.30" y1="267.70" x2="295.50" y2="267.70" stroke="#111" stroke-width="1.3" />
<text x="290.90" y="272.30" font-size="11.3" font-weight="bold" fill="#111" text-anchor="end" stroke="#111" stroke-width="0.2" >2</text>
<line x1="292.30" y1="304.70" x2="295.50" y2="304.70" stroke="#111" stroke-width="1.3" />
<text x="290.90" y="309.30" font-size="11.3" font-weight="bold" fill="#111" text-anchor="end" stroke="#111" stroke-width="0.2" >1</text>
<line x1="292.30" y1="341.40" x2="295.50" y2="341.40" stroke="#111" stroke-width="1.3" />
<text x="290.90" y="346.00" font-size="11.3" font-weight="bold" fill="#111" text-anchor="end" stroke="#111" stroke-width="0.2" >0</text>
<line x1="294.90" y1="341.40" x2="470.70" y2="341.40" stroke="#111" stroke-width="1.3" />
<line x1="325.30" y1="341.40" x2="325.30" y2="344.60" stroke="#111" stroke-width="1.3" />
<line x1="383.90" y1="341.40" x2="383.90" y2="344.60" stroke="#111" stroke-width="1.3" />
<line x1="441.80" y1="341.40" x2="441.80" y2="344.60" stroke="#111" stroke-width="1.3" />
<line x1="470.70" y1="230.60" x2="470.70" y2="342.00" stroke="#cf2229" stroke-width="2.0" />
<line x1="469.90" y1="230.90" x2="473.30" y2="230.90" stroke="#111" stroke-width="1.3" />
<text x="475.90" y="235.50" font-size="11.3" font-weight="bold" fill="#111" text-anchor="start" stroke="#111" stroke-width="0.2" >3</text>
<line x1="469.90" y1="267.60" x2="473.30" y2="267.60" stroke="#111" stroke-width="1.3" />
<text x="475.90" y="272.20" font-size="11.3" font-weight="bold" fill="#111" text-anchor="start" stroke="#111" stroke-width="0.2" >2</text>
<line x1="469.90" y1="304.20" x2="473.30" y2="304.20" stroke="#111" stroke-width="1.3" />
<text x="475.90" y="308.80" font-size="11.3" font-weight="bold" fill="#111" text-anchor="start" stroke="#111" stroke-width="0.2" >1</text>
<line x1="469.90" y1="341.00" x2="473.30" y2="341.00" stroke="#111" stroke-width="1.3" />
<text x="475.90" y="345.60" font-size="11.3" font-weight="bold" fill="#111" text-anchor="start" stroke="#111" stroke-width="0.2" >0</text>
<line x1="334.70" y1="268.80" x2="334.70" y2="286.90" stroke="#e6323a" stroke-width="1.25" />
<line x1="333.00" y1="268.80" x2="336.40" y2="268.80" stroke="#e6323a" stroke-width="1.3" />
<line x1="333.00" y1="286.90" x2="336.40" y2="286.90" stroke="#e6323a" stroke-width="1.3" />
<line x1="393.60" y1="239.30" x2="393.60" y2="265.00" stroke="#e6323a" stroke-width="1.25" />
<line x1="391.90" y1="239.30" x2="395.30" y2="239.30" stroke="#e6323a" stroke-width="1.3" />
<line x1="391.90" y1="265.00" x2="395.30" y2="265.00" stroke="#e6323a" stroke-width="1.3" />
<line x1="451.80" y1="236.50" x2="451.80" y2="254.60" stroke="#e6323a" stroke-width="1.25" />
<line x1="450.10" y1="236.50" x2="453.50" y2="236.50" stroke="#e6323a" stroke-width="1.3" />
<line x1="450.10" y1="254.60" x2="453.50" y2="254.60" stroke="#e6323a" stroke-width="1.3" />
<polyline points="334.70,277.90 393.60,252.00 451.80,245.80" fill="none" stroke="#d8161c" stroke-width="2.1" stroke-linejoin="round"/>
<circle cx="334.70" cy="277.90" r="2.6" fill="#d8161c"/>
<circle cx="393.60" cy="252.00" r="2.6" fill="#d8161c"/>
<circle cx="451.80" cy="245.80" r="2.6" fill="#d8161c"/>
<polyline points="315.10,267.20 315.10,265.00 335.30,265.00 335.30,267.20" fill="none" stroke="#555" stroke-width="1.1"/>
<text x="325.65" y="267.91" font-size="15" font-weight="normal" fill="#222" text-anchor="middle" stroke="#222" stroke-width="0.45" letter-spacing="0.5">*</text>
<polyline points="373.40,296.50 373.40,294.30 393.60,294.30 393.60,296.50" fill="none" stroke="#555" stroke-width="1.1"/>
<text x="383.95" y="297.21" font-size="15" font-weight="normal" fill="#222" text-anchor="middle" stroke="#222" stroke-width="0.45" letter-spacing="0.5">**</text>
<polyline points="431.50,276.90 431.50,274.70 451.50,274.70 451.50,276.90" fill="none" stroke="#555" stroke-width="1.1"/>
<text x="441.95" y="277.61" font-size="15" font-weight="normal" fill="#222" text-anchor="middle" stroke="#222" stroke-width="0.45" letter-spacing="0.5">**</text>
<text x="393.40" y="236.70" font-size="10" font-weight="bold" fill="#d8161c" text-anchor="middle" stroke="#d8161c" stroke-width="0.2" textLength="4.9" lengthAdjust="spacingAndGlyphs" >#</text>
<text x="451.80" y="235.20" font-size="10" font-weight="bold" fill="#d8161c" text-anchor="middle" stroke="#d8161c" stroke-width="0.2" textLength="4.9" lengthAdjust="spacingAndGlyphs" >#</text>
<text x="384.60" y="225.90" font-size="12.4" font-weight="bold" fill="#111" text-anchor="middle" stroke="#111" stroke-width="0.2" textLength="43.4" lengthAdjust="spacingAndGlyphs" >Cyp2a5</text>
<text x="281.30" y="282.50" font-size="12" font-weight="bold" fill="#111" text-anchor="middle" stroke="#111" stroke-width="0.1" textLength="110" lengthAdjust="spacingAndGlyphs" transform="rotate(-90 281.30 282.50)" >Relative mRNA levels</text>
<text x="493.00" y="283.00" font-size="12.5" font-weight="bold" fill="#111" text-anchor="middle" stroke="#111" stroke-width="0.1" textLength="68.7" lengthAdjust="spacingAndGlyphs" transform="rotate(90 493.00 283.00)" >Fold chanage</text>
<text x="325.30" y="357.30" font-size="11.3" font-weight="bold" fill="#111" text-anchor="middle" stroke="#111" stroke-width="0.2" >0</text>
<text x="383.90" y="357.30" font-size="11.3" font-weight="bold" fill="#111" text-anchor="middle" stroke="#111" stroke-width="0.2" >50</text>
<text x="441.80" y="357.30" font-size="11.3" font-weight="bold" fill="#111" text-anchor="middle" stroke="#111" stroke-width="0.2" >100</text>
<text x="275.00" y="357.80" font-size="10.9" font-weight="bold" fill="#111" text-anchor="start" stroke="#111" stroke-width="0.2" textLength="16.4" lengthAdjust="spacingAndGlyphs" >INS</text>
<text x="294.00" y="357.80" font-size="7.6" font-weight="bold" fill="#111" text-anchor="start" stroke="#111" stroke-width="0.1" textLength="17.3" lengthAdjust="spacingAndGlyphs" >(nM)</text>
<rect x="557.40" y="268.60" width="18.30" height="71.20" fill="#fff" stroke="#111" stroke-width="1.4"/>
<rect x="615.60" y="289.30" width="18.30" height="50.50" fill="#fff" stroke="#111" stroke-width="1.4"/>
<rect x="674.50" y="279.40" width="18.10" height="60.40" fill="#fff" stroke="#111" stroke-width="1.4"/>
<rect x="576.60" y="266.00" width="19.00" height="73.80" fill="#d4d4d4" stroke="#111" stroke-width="1.4"/>
<rect x="634.90" y="267.60" width="19.10" height="72.20" fill="#d4d4d4" stroke="#111" stroke-width="1.4"/>
<rect x="693.70" y="270.40" width="18.70" height="69.40" fill="#d4d4d4" stroke="#111" stroke-width="1.4"/>
<line x1="566.55" y1="256.50" x2="566.55" y2="279.80" stroke="#111" stroke-width="1.3" />
<line x1="562.30" y1="256.50" x2="570.80" y2="256.50" stroke="#111" stroke-width="1.3" />
<line x1="562.30" y1="279.80" x2="570.80" y2="279.80" stroke="#111" stroke-width="1.3" />
<line x1="624.75" y1="273.50" x2="624.75" y2="304.70" stroke="#111" stroke-width="1.3" />
<line x1="620.50" y1="273.50" x2="629.00" y2="273.50" stroke="#111" stroke-width="1.3" />
<line x1="620.50" y1="304.70" x2="629.00" y2="304.70" stroke="#111" stroke-width="1.3" />
<line x1="683.55" y1="265.00" x2="683.55" y2="291.90" stroke="#111" stroke-width="1.3" />
<line x1="679.30" y1="265.00" x2="687.80" y2="265.00" stroke="#111" stroke-width="1.3" />
<line x1="679.30" y1="291.90" x2="687.80" y2="291.90" stroke="#111" stroke-width="1.3" />
<line x1="586.10" y1="262.60" x2="586.10" y2="268.20" stroke="#111" stroke-width="1.3" />
<line x1="581.85" y1="262.60" x2="590.35" y2="262.60" stroke="#111" stroke-width="1.3" />
<line x1="581.85" y1="268.20" x2="590.35" y2="268.20" stroke="#111" stroke-width="1.3" />
<line x1="644.45" y1="256.10" x2="644.45" y2="278.00" stroke="#111" stroke-width="1.3" />
<line x1="640.20" y1="256.10" x2="648.70" y2="256.10" stroke="#111" stroke-width="1.3" />
<line x1="640.20" y1="278.00" x2="648.70" y2="278.00" stroke="#111" stroke-width="1.3" />
<line x1="703.05" y1="258.50" x2="703.05" y2="281.30" stroke="#111" stroke-width="1.3" />
<line x1="698.80" y1="258.50" x2="707.30" y2="258.50" stroke="#111" stroke-width="1.3" />
<line x1="698.80" y1="281.30" x2="707.30" y2="281.30" stroke="#111" stroke-width="1.3" />
<line x1="547.10" y1="230.30" x2="547.10" y2="340.40" stroke="#111" stroke-width="1.3" />
<line x1="543.90" y1="230.30" x2="547.10" y2="230.30" stroke="#111" stroke-width="1.3" />
<text x="542.50" y="234.90" font-size="11.3" font-weight="bold" fill="#111" text-anchor="end" stroke="#111" stroke-width="0.2" >1.5</text>
<line x1="543.90" y1="266.90" x2="547.10" y2="266.90" stroke="#111" stroke-width="1.3" />
<text x="542.50" y="271.50" font-size="11.3" font-weight="bold" fill="#111" text-anchor="end" stroke="#111" stroke-width="0.2" >1.0</text>
<line x1="543.90" y1="303.20" x2="547.10" y2="303.20" stroke="#111" stroke-width="1.3" />
<text x="542.50" y="307.80" font-size="11.3" font-weight="bold" fill="#111" text-anchor="end" stroke="#111" stroke-width="0.2" >0.5</text>
<line x1="543.90" y1="339.80" x2="547.10" y2="339.80" stroke="#111" stroke-width="1.3" />
<text x="542.50" y="344.40" font-size="11.3" font-weight="bold" fill="#111" text-anchor="end" stroke="#111" stroke-width="0.2" >0.0</text>
<line x1="546.50" y1="339.80" x2="722.30" y2="339.80" stroke="#111" stroke-width="1.3" />
<line x1="576.00" y1="339.80" x2="576.00" y2="343.00" stroke="#111" stroke-width="1.3" />
<line x1="634.60" y1="339.80" x2="634.60" y2="343.00" stroke="#111" stroke-width="1.3" />
<line x1="692.80" y1="339.80" x2="692.80" y2="343.00" stroke="#111" stroke-width="1.3" />
<line x1="722.30" y1="230.60" x2="722.30" y2="340.40" stroke="#cf2229" stroke-width="2.0" />
<line x1="721.50" y1="230.90" x2="724.90" y2="230.90" stroke="#111" stroke-width="1.3" />
<text x="727.50" y="235.50" font-size="11.3" font-weight="bold" fill="#111" text-anchor="start" stroke="#111" stroke-width="0.2" >1.8</text>
<line x1="721.50" y1="252.70" x2="724.90" y2="252.70" stroke="#111" stroke-width="1.3" />
<text x="727.50" y="257.30" font-size="11.3" font-weight="bold" fill="#111" text-anchor="start" stroke="#111" stroke-width="0.2" >1.6</text>
<line x1="721.50" y1="274.40" x2="724.90" y2="274.40" stroke="#111" stroke-width="1.3" />
<text x="727.50" y="279.00" font-size="11.3" font-weight="bold" fill="#111" text-anchor="start" stroke="#111" stroke-width="0.2" >1.4</text>
<line x1="721.50" y1="296.20" x2="724.90" y2="296.20" stroke="#111" stroke-width="1.3" />
<text x="727.50" y="300.80" font-size="11.3" font-weight="bold" fill="#111" text-anchor="start" stroke="#111" stroke-width="0.2" >1.2</text>
<line x1="721.50" y1="318.00" x2="724.90" y2="318.00" stroke="#111" stroke-width="1.3" />
<text x="727.50" y="322.60" font-size="11.3" font-weight="bold" fill="#111" text-anchor="start" stroke="#111" stroke-width="0.2" >1.0</text>
<line x1="721.50" y1="339.70" x2="724.90" y2="339.70" stroke="#111" stroke-width="1.3" />
<text x="727.50" y="344.30" font-size="11.3" font-weight="bold" fill="#111" text-anchor="start" stroke="#111" stroke-width="0.2" >0.8</text>
<line x1="585.70" y1="312.00" x2="585.70" y2="320.30" stroke="#e6323a" stroke-width="1.25" />
<line x1="584.00" y1="312.00" x2="587.40" y2="312.00" stroke="#e6323a" stroke-width="1.3" />
<line x1="584.00" y1="320.30" x2="587.40" y2="320.30" stroke="#e6323a" stroke-width="1.3" />
<line x1="644.40" y1="247.10" x2="644.40" y2="294.40" stroke="#e6323a" stroke-width="1.25" />
<line x1="642.70" y1="247.10" x2="646.10" y2="247.10" stroke="#e6323a" stroke-width="1.3" />
<line x1="642.70" y1="294.40" x2="646.10" y2="294.40" stroke="#e6323a" stroke-width="1.3" />
<line x1="703.00" y1="279.40" x2="703.00" y2="322.90" stroke="#e6323a" stroke-width="1.25" />
<line x1="701.30" y1="279.40" x2="704.70" y2="279.40" stroke="#e6323a" stroke-width="1.3" />
<line x1="701.30" y1="322.90" x2="704.70" y2="322.90" stroke="#e6323a" stroke-width="1.3" />
<polyline points="585.70,315.90 644.40,270.50 703.00,301.80" fill="none" stroke="#d8161c" stroke-width="2.1" stroke-linejoin="round"/>
<circle cx="585.70" cy="315.90" r="2.6" fill="#d8161c"/>
<circle cx="644.40" cy="270.50" r="2.6" fill="#d8161c"/>
<circle cx="703.00" cy="301.80" r="2.6" fill="#d8161c"/>
<text x="644.50" y="244.50" font-size="10" font-weight="bold" fill="#d8161c" text-anchor="middle" stroke="#d8161c" stroke-width="0.2" textLength="4.9" lengthAdjust="spacingAndGlyphs" >#</text>
<text x="638.40" y="227.30" font-size="12.4" font-weight="bold" fill="#111" text-anchor="middle" stroke="#111" stroke-width="0.2" textLength="40" lengthAdjust="spacingAndGlyphs" >Osgin1</text>
<text x="523.60" y="282.50" font-size="12" font-weight="bold" fill="#111" text-anchor="middle" stroke="#111" stroke-width="0.1" textLength="110" lengthAdjust="spacingAndGlyphs" transform="rotate(-90 523.60 282.50)" >Relative mRNA levels</text>
<text x="749.20" y="283.00" font-size="12.5" font-weight="bold" fill="#111" text-anchor="middle" stroke="#111" stroke-width="0.1" textLength="68.7" lengthAdjust="spacingAndGlyphs" transform="rotate(90 749.20 283.00)" >Fold chanage</text>
<text x="576.00" y="355.50" font-size="11.3" font-weight="bold" fill="#111" text-anchor="middle" stroke="#111" stroke-width="0.2" >0</text>
<text x="634.60" y="355.50" font-size="11.3" font-weight="bold" fill="#111" text-anchor="middle" stroke="#111" stroke-width="0.2" >50</text>
<text x="692.80" y="355.50" font-size="11.3" font-weight="bold" fill="#111" text-anchor="middle" stroke="#111" stroke-width="0.2" >100</text>
<text x="525.80" y="356.00" font-size="10.9" font-weight="bold" fill="#111" text-anchor="start" stroke="#111" stroke-width="0.2" textLength="16.9" lengthAdjust="spacingAndGlyphs" >INS</text>
<text x="545.40" y="356.00" font-size="7.6" font-weight="bold" fill="#111" text-anchor="start" stroke="#111" stroke-width="0.1" textLength="17.4" lengthAdjust="spacingAndGlyphs" >(nM)</text>
<rect x="49.30" y="544.40" width="14.40" height="3.70" fill="#fff" stroke="#111" stroke-width="1.4"/>
<rect x="92.30" y="545.00" width="14.30" height="3.10" fill="#fff" stroke="#111" stroke-width="1.4"/>
<rect x="134.90" y="544.50" width="14.50" height="3.60" fill="#fff" stroke="#111" stroke-width="1.4"/>
<rect x="177.40" y="545.50" width="15.00" height="2.60" fill="#fff" stroke="#111" stroke-width="1.4"/>
<rect x="64.40" y="488.00" width="15.00" height="60.10" fill="#d4d4d4" stroke="#111" stroke-width="1.4"/>
<rect x="107.40" y="488.40" width="14.90" height="59.70" fill="#d4d4d4" stroke="#111" stroke-width="1.4"/>
<rect x="150.40" y="483.30" width="15.00" height="64.80" fill="#d4d4d4" stroke="#111" stroke-width="1.4"/>
<rect x="194.00" y="507.10" width="14.10" height="41.00" fill="#d4d4d4" stroke="#111" stroke-width="1.4"/>
<line x1="56.50" y1="542.10" x2="56.50" y2="544.40" stroke="#111" stroke-width="1.3" />
<line x1="53.00" y1="542.10" x2="60.00" y2="542.10" stroke="#111" stroke-width="1.3" />
<line x1="99.45" y1="543.00" x2="99.45" y2="547.00" stroke="#111" stroke-width="1.3" />
<line x1="95.95" y1="543.00" x2="102.95" y2="543.00" stroke="#111" stroke-width="1.3" />
<line x1="95.95" y1="547.00" x2="102.95" y2="547.00" stroke="#111" stroke-width="1.3" />
<line x1="142.15" y1="542.80" x2="142.15" y2="544.50" stroke="#111" stroke-width="1.3" />
<line x1="138.65" y1="542.80" x2="145.65" y2="542.80" stroke="#111" stroke-width="1.3" />
<line x1="184.90" y1="544.80" x2="184.90" y2="545.50" stroke="#111" stroke-width="1.3" />
<line x1="181.40" y1="544.80" x2="188.40" y2="544.80" stroke="#111" stroke-width="1.3" />
<line x1="71.90" y1="475.60" x2="71.90" y2="499.40" stroke="#111" stroke-width="1.3" />
<line x1="68.40" y1="475.60" x2="75.40" y2="475.60" stroke="#111" stroke-width="1.3" />
<line x1="68.40" y1="499.40" x2="75.40" y2="499.40" stroke="#111" stroke-width="1.3" />
<line x1="114.85" y1="477.00" x2="114.85" y2="498.80" stroke="#111" stroke-width="1.3" />
<line x1="111.35" y1="477.00" x2="118.35" y2="477.00" stroke="#111" stroke-width="1.3" />
<line x1="111.35" y1="498.80" x2="118.35" y2="498.80" stroke="#111" stroke-width="1.3" />
<line x1="157.90" y1="473.50" x2="157.90" y2="492.20" stroke="#111" stroke-width="1.3" />
<line x1="154.40" y1="473.50" x2="161.40" y2="473.50" stroke="#111" stroke-width="1.3" />
<line x1="154.40" y1="492.20" x2="161.40" y2="492.20" stroke="#111" stroke-width="1.3" />
<line x1="201.05" y1="494.70" x2="201.05" y2="517.50" stroke="#111" stroke-width="1.3" />
<line x1="197.55" y1="494.70" x2="204.55" y2="494.70" stroke="#111" stroke-width="1.3" />
<line x1="197.55" y1="517.50" x2="204.55" y2="517.50" stroke="#111" stroke-width="1.3" />
<line x1="41.10" y1="437.00" x2="41.10" y2="548.70" stroke="#111" stroke-width="1.3" />
<line x1="37.90" y1="437.00" x2="41.10" y2="437.00" stroke="#111" stroke-width="1.3" />
<text x="36.50" y="441.60" font-size="11.3" font-weight="bold" fill="#111" text-anchor="end" stroke="#111" stroke-width="0.2" >25</text>
<line x1="37.90" y1="459.40" x2="41.10" y2="459.40" stroke="#111" stroke-width="1.3" />
<text x="36.50" y="464.00" font-size="11.3" font-weight="bold" fill="#111" text-anchor="end" stroke="#111" stroke-width="0.2" >20</text>
<line x1="37.90" y1="481.80" x2="41.10" y2="481.80" stroke="#111" stroke-width="1.3" />
<text x="36.50" y="486.40" font-size="11.3" font-weight="bold" fill="#111" text-anchor="end" stroke="#111" stroke-width="0.2" >15</text>
<line x1="37.90" y1="504.00" x2="41.10" y2="504.00" stroke="#111" stroke-width="1.3" />
<text x="36.50" y="508.60" font-size="11.3" font-weight="bold" fill="#111" text-anchor="end" stroke="#111" stroke-width="0.2" >10</text>
<line x1="37.90" y1="526.20" x2="41.10" y2="526.20" stroke="#111" stroke-width="1.3" />
<text x="36.50" y="530.80" font-size="11.3" font-weight="bold" fill="#111" text-anchor="end" stroke="#111" stroke-width="0.2" >5</text>
<line x1="37.90" y1="548.10" x2="41.10" y2="548.10" stroke="#111" stroke-width="1.3" />
<text x="36.50" y="552.70" font-size="11.3" font-weight="bold" fill="#111" text-anchor="end" stroke="#111" stroke-width="0.2" >0</text>
<line x1="40.50" y1="548.10" x2="216.80" y2="548.10" stroke="#111" stroke-width="1.3" />
<line x1="63.90" y1="548.10" x2="63.90" y2="551.30" stroke="#111" stroke-width="1.3" />
<line x1="106.80" y1="548.10" x2="106.80" y2="551.30" stroke="#111" stroke-width="1.3" />
<line x1="149.80" y1="548.10" x2="149.80" y2="551.30" stroke="#111" stroke-width="1.3" />
<line x1="193.00" y1="548.10" x2="193.00" y2="551.30" stroke="#111" stroke-width="1.3" />
<line x1="216.80" y1="436.70" x2="216.80" y2="548.70" stroke="#cf2229" stroke-width="2.0" />
<line x1="216.00" y1="437.00" x2="219.40" y2="437.00" stroke="#111" stroke-width="1.3" />
<text x="222.00" y="441.60" font-size="11.3" font-weight="bold" fill="#111" text-anchor="start" stroke="#111" stroke-width="0.2" >25</text>
<line x1="216.00" y1="459.40" x2="219.40" y2="459.40" stroke="#111" stroke-width="1.3" />
<text x="222.00" y="464.00" font-size="11.3" font-weight="bold" fill="#111" text-anchor="start" stroke="#111" stroke-width="0.2" >20</text>
<line x1="216.00" y1="481.80" x2="219.40" y2="481.80" stroke="#111" stroke-width="1.3" />
<text x="222.00" y="486.40" font-size="11.3" font-weight="bold" fill="#111" text-anchor="start" stroke="#111" stroke-width="0.2" >15</text>
<line x1="216.00" y1="504.00" x2="219.40" y2="504.00" stroke="#111" stroke-width="1.3" />
<text x="222.00" y="508.60" font-size="11.3" font-weight="bold" fill="#111" text-anchor="start" stroke="#111" stroke-width="0.2" >10</text>
<line x1="216.00" y1="526.20" x2="219.40" y2="526.20" stroke="#111" stroke-width="1.3" />
<text x="222.00" y="530.80" font-size="11.3" font-weight="bold" fill="#111" text-anchor="start" stroke="#111" stroke-width="0.2" >5</text>
<line x1="216.00" y1="548.20" x2="219.40" y2="548.20" stroke="#111" stroke-width="1.3" />
<text x="222.00" y="552.80" font-size="11.3" font-weight="bold" fill="#111" text-anchor="start" stroke="#111" stroke-width="0.2" >0</text>
<line x1="72.00" y1="475.60" x2="72.00" y2="499.40" stroke="#e6323a" stroke-width="1.25" />
<line x1="69.75" y1="475.60" x2="74.25" y2="475.60" stroke="#e6323a" stroke-width="1.3" />
<line x1="69.75" y1="499.40" x2="74.25" y2="499.40" stroke="#e6323a" stroke-width="1.3" />
<line x1="114.70" y1="462.50" x2="114.70" y2="488.00" stroke="#e6323a" stroke-width="1.25" />
<line x1="112.45" y1="462.50" x2="116.95" y2="462.50" stroke="#e6323a" stroke-width="1.3" />
<line x1="112.45" y1="488.00" x2="116.95" y2="488.00" stroke="#e6323a" stroke-width="1.3" />
<line x1="157.70" y1="467.70" x2="157.70" y2="488.50" stroke="#e6323a" stroke-width="1.25" />
<line x1="155.45" y1="467.70" x2="159.95" y2="467.70" stroke="#e6323a" stroke-width="1.3" />
<line x1="155.45" y1="488.50" x2="159.95" y2="488.50" stroke="#e6323a" stroke-width="1.3" />
<line x1="200.60" y1="482.20" x2="200.60" y2="511.30" stroke="#e6323a" stroke-width="1.25" />
<line x1="198.35" y1="482.20" x2="202.85" y2="482.20" stroke="#e6323a" stroke-width="1.3" />
<line x1="198.35" y1="511.30" x2="202.85" y2="511.30" stroke="#e6323a" stroke-width="1.3" />
<polyline points="72.00,487.40 114.70,475.60 157.70,477.00 200.60,496.70" fill="none" stroke="#d8161c" stroke-width="1.85" stroke-linejoin="round"/>
<circle cx="72.00" cy="487.40" r="2.6" fill="#d8161c"/>
<circle cx="114.70" cy="475.60" r="2.6" fill="#d8161c"/>
<circle cx="157.70" cy="477.00" r="2.6" fill="#d8161c"/>
<circle cx="200.60" cy="496.70" r="2.6" fill="#d8161c"/>
<polyline points="56.40,470.90 56.40,468.70 71.50,468.70 71.50,470.90" fill="none" stroke="#555" stroke-width="1.1"/>
<text x="64.40" y="471.61" font-size="15" font-weight="normal" fill="#222" text-anchor="middle" stroke="#222" stroke-width="0.45" letter-spacing="0.5">*</text>
<polyline points="99.10,472.00 99.10,469.80 114.70,469.80 114.70,472.00" fill="none" stroke="#555" stroke-width="1.1"/>
<text x="107.35" y="472.71" font-size="15" font-weight="normal" fill="#222" text-anchor="middle" stroke="#222" stroke-width="0.45" letter-spacing="0.5">*</text>
<polyline points="142.60,468.90 142.60,466.70 157.70,466.70 157.70,468.90" fill="none" stroke="#555" stroke-width="1.1"/>
<text x="150.60" y="469.61" font-size="15" font-weight="normal" fill="#222" text-anchor="middle" stroke="#222" stroke-width="0.45" letter-spacing="0.5">**</text>
<polyline points="185.70,490.20 185.70,488.00 200.60,488.00 200.60,490.20" fill="none" stroke="#555" stroke-width="1.1"/>
<text x="193.60" y="490.91" font-size="15" font-weight="normal" fill="#222" text-anchor="middle" stroke="#222" stroke-width="0.45" letter-spacing="0.5">*</text>
<text x="130.60" y="440.10" font-size="12.4" font-weight="bold" fill="#111" text-anchor="middle" stroke="#111" stroke-width="0.2" textLength="50.8" lengthAdjust="spacingAndGlyphs" >Cyp3a11</text>
<text x="15.40" y="489.50" font-size="12" font-weight="bold" fill="#111" text-anchor="middle" stroke="#111" stroke-width="0.1" textLength="77.5" lengthAdjust="spacingAndGlyphs" transform="rotate(-90 15.40 489.50)" >Relative mRNA</text>
<text x="241.50" y="489.30" font-size="12.5" font-weight="bold" fill="#111" text-anchor="middle" stroke="#111" stroke-width="0.1" textLength="68.3" lengthAdjust="spacingAndGlyphs" transform="rotate(90 241.50 489.30)" >Fold chanage</text>
<text x="63.90" y="564.60" font-size="10.3" font-weight="bold" fill="#111" text-anchor="middle" stroke="#111" stroke-width="0.2" >0</text>
<text x="106.80" y="564.60" font-size="10.3" font-weight="bold" fill="#111" text-anchor="middle" stroke="#111" stroke-width="0.2" >15</text>
<text x="149.80" y="564.60" font-size="10.3" font-weight="bold" fill="#111" text-anchor="middle" stroke="#111" stroke-width="0.2" >25</text>
<text x="193.00" y="564.60" font-size="10.3" font-weight="bold" fill="#111" text-anchor="middle" stroke="#111" stroke-width="0.2" >50</text>
<text x="19.00" y="564.60" font-size="9.1" font-weight="bold" fill="#111" text-anchor="start" stroke="#111" stroke-width="0.2" textLength="19" lengthAdjust="spacingAndGlyphs" >GCG</text>
<text x="40.60" y="563.80" font-size="6.3" font-weight="bold" fill="#111" text-anchor="start" stroke="#111" stroke-width="0.1" textLength="14.6" lengthAdjust="spacingAndGlyphs" >(nM)</text>
<rect x="303.50" y="475.70" width="14.00" height="72.40" fill="#fff" stroke="#111" stroke-width="1.4"/>
<rect x="345.90" y="484.10" width="13.60" height="64.00" fill="#fff" stroke="#111" stroke-width="1.4"/>
<rect x="387.40" y="484.70" width="14.00" height="63.40" fill="#fff" stroke="#111" stroke-width="1.4"/>
<rect x="429.40" y="484.20" width="14.00" height="63.90" fill="#fff" stroke="#111" stroke-width="1.4"/>
<rect x="318.40" y="491.60" width="14.00" height="56.50" fill="#d4d4d4" stroke="#111" stroke-width="1.4"/>
<rect x="360.40" y="503.20" width="14.00" height="44.90" fill="#d4d4d4" stroke="#111" stroke-width="1.4"/>
<rect x="402.30" y="506.20" width="14.00" height="41.90" fill="#d4d4d4" stroke="#111" stroke-width="1.4"/>
<rect x="444.30" y="501.00" width="14.00" height="47.10" fill="#d4d4d4" stroke="#111" stroke-width="1.4"/>
<line x1="310.50" y1="463.60" x2="310.50" y2="487.50" stroke="#111" stroke-width="1.3" />
<line x1="307.00" y1="463.60" x2="314.00" y2="463.60" stroke="#111" stroke-width="1.3" />
<line x1="307.00" y1="487.50" x2="314.00" y2="487.50" stroke="#111" stroke-width="1.3" />
<line x1="352.70" y1="469.60" x2="352.70" y2="497.60" stroke="#111" stroke-width="1.3" />
<line x1="349.20" y1="469.60" x2="356.20" y2="469.60" stroke="#111" stroke-width="1.3" />
<line x1="349.20" y1="497.60" x2="356.20" y2="497.60" stroke="#111" stroke-width="1.3" />
<line x1="394.40" y1="473.50" x2="394.40" y2="495.40" stroke="#111" stroke-width="1.3" />
<line x1="390.90" y1="473.50" x2="397.90" y2="473.50" stroke="#111" stroke-width="1.3" />
<line x1="390.90" y1="495.40" x2="397.90" y2="495.40" stroke="#111" stroke-width="1.3" />
<line x1="436.40" y1="480.40" x2="436.40" y2="487.00" stroke="#111" stroke-width="1.3" />
<line x1="432.90" y1="480.40" x2="439.90" y2="480.40" stroke="#111" stroke-width="1.3" />
<line x1="432.90" y1="487.00" x2="439.90" y2="487.00" stroke="#111" stroke-width="1.3" />
<line x1="325.40" y1="483.80" x2="325.40" y2="497.20" stroke="#111" stroke-width="1.3" />
<line x1="321.90" y1="483.80" x2="328.90" y2="483.80" stroke="#111" stroke-width="1.3" />
<line x1="321.90" y1="497.20" x2="328.90" y2="497.20" stroke="#111" stroke-width="1.3" />
<line x1="367.40" y1="490.30" x2="367.40" y2="507.50" stroke="#111" stroke-width="1.3" />
<line x1="363.90" y1="490.30" x2="370.90" y2="490.30" stroke="#111" stroke-width="1.3" />
<line x1="363.90" y1="507.50" x2="370.90" y2="507.50" stroke="#111" stroke-width="1.3" />
<line x1="409.30" y1="493.50" x2="409.30" y2="511.20" stroke="#111" stroke-width="1.3" />
<line x1="405.80" y1="493.50" x2="412.80" y2="493.50" stroke="#111" stroke-width="1.3" />
<line x1="405.80" y1="511.20" x2="412.80" y2="511.20" stroke="#111" stroke-width="1.3" />
<line x1="451.30" y1="500.60" x2="451.30" y2="501.00" stroke="#111" stroke-width="1.3" />
<line x1="447.80" y1="500.60" x2="454.80" y2="500.60" stroke="#111" stroke-width="1.3" />
<line x1="294.20" y1="439.00" x2="294.20" y2="548.70" stroke="#111" stroke-width="1.3" />
<line x1="291.00" y1="439.00" x2="294.20" y2="439.00" stroke="#111" stroke-width="1.3" />
<text x="289.60" y="443.60" font-size="11.3" font-weight="bold" fill="#111" text-anchor="end" stroke="#111" stroke-width="0.2" >1.5</text>
<line x1="291.00" y1="475.40" x2="294.20" y2="475.40" stroke="#111" stroke-width="1.3" />
<text x="289.60" y="480.00" font-size="11.3" font-weight="bold" fill="#111" text-anchor="end" stroke="#111" stroke-width="0.2" >1.0</text>
<line x1="291.00" y1="511.70" x2="294.20" y2="511.70" stroke="#111" stroke-width="1.3" />
<text x="289.60" y="516.30" font-size="11.3" font-weight="bold" fill="#111" text-anchor="end" stroke="#111" stroke-width="0.2" >0.5</text>
<line x1="291.00" y1="548.10" x2="294.20" y2="548.10" stroke="#111" stroke-width="1.3" />
<text x="289.60" y="552.70" font-size="11.3" font-weight="bold" fill="#111" text-anchor="end" stroke="#111" stroke-width="0.2" >0.0</text>
<line x1="293.60" y1="548.10" x2="466.80" y2="548.10" stroke="#111" stroke-width="1.3" />
<line x1="317.90" y1="548.10" x2="317.90" y2="551.30" stroke="#111" stroke-width="1.3" />
<line x1="359.80" y1="548.10" x2="359.80" y2="551.30" stroke="#111" stroke-width="1.3" />
<line x1="401.80" y1="548.10" x2="401.80" y2="551.30" stroke="#111" stroke-width="1.3" />
<line x1="443.80" y1="548.10" x2="443.80" y2="551.30" stroke="#111" stroke-width="1.3" />
<line x1="466.80" y1="438.70" x2="466.80" y2="548.70" stroke="#cf2229" stroke-width="2.0" />
<line x1="466.00" y1="439.00" x2="469.40" y2="439.00" stroke="#111" stroke-width="1.3" />
<text x="472.00" y="443.60" font-size="11.3" font-weight="bold" fill="#111" text-anchor="start" stroke="#111" stroke-width="0.2" >1.5</text>
<line x1="466.00" y1="475.40" x2="469.40" y2="475.40" stroke="#111" stroke-width="1.3" />
<text x="472.00" y="480.00" font-size="11.3" font-weight="bold" fill="#111" text-anchor="start" stroke="#111" stroke-width="0.2" >1.0</text>
<line x1="466.00" y1="511.80" x2="469.40" y2="511.80" stroke="#111" stroke-width="1.3" />
<text x="472.00" y="516.40" font-size="11.3" font-weight="bold" fill="#111" text-anchor="start" stroke="#111" stroke-width="0.2" >0.5</text>
<line x1="466.00" y1="548.20" x2="469.40" y2="548.20" stroke="#111" stroke-width="1.3" />
<text x="472.00" y="552.80" font-size="11.3" font-weight="bold" fill="#111" text-anchor="start" stroke="#111" stroke-width="0.2" >0.0</text>
<line x1="325.30" y1="483.80" x2="325.30" y2="497.20" stroke="#e6323a" stroke-width="1.25" />
<line x1="323.05" y1="483.80" x2="327.55" y2="483.80" stroke="#e6323a" stroke-width="1.3" />
<line x1="323.05" y1="497.20" x2="327.55" y2="497.20" stroke="#e6323a" stroke-width="1.3" />
<line x1="367.30" y1="490.30" x2="367.30" y2="507.50" stroke="#e6323a" stroke-width="1.25" />
<line x1="365.05" y1="490.30" x2="369.55" y2="490.30" stroke="#e6323a" stroke-width="1.3" />
<line x1="365.05" y1="507.50" x2="369.55" y2="507.50" stroke="#e6323a" stroke-width="1.3" />
<line x1="409.20" y1="493.50" x2="409.20" y2="506.60" stroke="#e6323a" stroke-width="1.25" />
<line x1="406.95" y1="493.50" x2="411.45" y2="493.50" stroke="#e6323a" stroke-width="1.3" />
<line x1="406.95" y1="506.60" x2="411.45" y2="506.60" stroke="#e6323a" stroke-width="1.3" />
<polyline points="325.30,490.70 367.30,496.60 409.20,500.00 451.20,495.40" fill="none" stroke="#d8161c" stroke-width="1.85" stroke-linejoin="round"/>
<circle cx="325.30" cy="490.70" r="2.6" fill="#d8161c"/>
<circle cx="367.30" cy="496.60" r="2.6" fill="#d8161c"/>
<circle cx="409.20" cy="500.00" r="2.6" fill="#d8161c"/>
<circle cx="451.20" cy="495.40" r="2.6" fill="#d8161c"/>
<polyline points="394.70,472.00 394.70,469.80 409.80,469.80 409.80,472.00" fill="none" stroke="#555" stroke-width="1.1"/>
<text x="402.70" y="472.71" font-size="15" font-weight="normal" fill="#222" text-anchor="middle" stroke="#222" stroke-width="0.45" letter-spacing="0.5">*</text>
<polyline points="435.40,479.80 435.40,477.60 451.20,477.60 451.20,479.80" fill="none" stroke="#555" stroke-width="1.1"/>
<text x="443.75" y="480.51" font-size="15" font-weight="normal" fill="#222" text-anchor="middle" stroke="#222" stroke-width="0.45" letter-spacing="0.5">***</text>
<text x="382.80" y="440.50" font-size="12.4" font-weight="bold" fill="#111" text-anchor="middle" stroke="#111" stroke-width="0.2" textLength="56.6" lengthAdjust="spacingAndGlyphs" >Cyp4a12a</text>
<text x="273.20" y="490.80" font-size="12" font-weight="bold" fill="#111" text-anchor="middle" stroke="#111" stroke-width="0.1" textLength="76.6" lengthAdjust="spacingAndGlyphs" transform="rotate(-90 273.20 490.80)" >Relative mRNA</text>
<text x="492.60" y="491.20" font-size="12.5" font-weight="bold" fill="#111" text-anchor="middle" stroke="#111" stroke-width="0.1" textLength="62.6" lengthAdjust="spacingAndGlyphs" transform="rotate(90 492.60 491.20)" >Fold Change</text>
<text x="317.90" y="564.60" font-size="10.3" font-weight="bold" fill="#111" text-anchor="middle" stroke="#111" stroke-width="0.2" >0</text>
<text x="359.80" y="564.60" font-size="10.3" font-weight="bold" fill="#111" text-anchor="middle" stroke="#111" stroke-width="0.2" >15</text>
<text x="401.80" y="564.60" font-size="10.3" font-weight="bold" fill="#111" text-anchor="middle" stroke="#111" stroke-width="0.2" >25</text>
<text x="443.80" y="564.60" font-size="10.3" font-weight="bold" fill="#111" text-anchor="middle" stroke="#111" stroke-width="0.2" >50</text>
<text x="272.00" y="564.60" font-size="9.1" font-weight="bold" fill="#111" text-anchor="start" stroke="#111" stroke-width="0.2" textLength="19" lengthAdjust="spacingAndGlyphs" >GCG</text>
<text x="293.50" y="563.80" font-size="6.3" font-weight="bold" fill="#111" text-anchor="start" stroke="#111" stroke-width="0.1" textLength="14.6" lengthAdjust="spacingAndGlyphs" >(nM)</text>
<rect x="556.80" y="526.30" width="14.00" height="21.90" fill="#fff" stroke="#111" stroke-width="1.4"/>
<rect x="599.90" y="535.10" width="14.00" height="13.10" fill="#fff" stroke="#111" stroke-width="1.4"/>
<rect x="643.10" y="533.90" width="15.70" height="14.30" fill="#fff" stroke="#111" stroke-width="1.4"/>
<rect x="687.30" y="533.00" width="15.00" height="15.20" fill="#fff" stroke="#111" stroke-width="1.4"/>
<rect x="572.30" y="529.50" width="14.50" height="18.70" fill="#d4d4d4" stroke="#111" stroke-width="1.4"/>
<rect x="615.70" y="515.50" width="14.40" height="32.70" fill="#d4d4d4" stroke="#111" stroke-width="1.4"/>
<rect x="659.90" y="502.00" width="14.60" height="46.20" fill="#d4d4d4" stroke="#111" stroke-width="1.4"/>
<rect x="703.40" y="532.40" width="14.40" height="15.80" fill="#d4d4d4" stroke="#111" stroke-width="1.4"/>
<line x1="563.80" y1="521.70" x2="563.80" y2="529.90" stroke="#111" stroke-width="1.3" />
<line x1="560.30" y1="521.70" x2="567.30" y2="521.70" stroke="#111" stroke-width="1.3" />
<line x1="560.30" y1="529.90" x2="567.30" y2="529.90" stroke="#111" stroke-width="1.3" />
<line x1="606.90" y1="531.40" x2="606.90" y2="537.50" stroke="#111" stroke-width="1.3" />
<line x1="603.40" y1="531.40" x2="610.40" y2="531.40" stroke="#111" stroke-width="1.3" />
<line x1="603.40" y1="537.50" x2="610.40" y2="537.50" stroke="#111" stroke-width="1.3" />
<line x1="650.95" y1="528.30" x2="650.95" y2="538.60" stroke="#111" stroke-width="1.3" />
<line x1="647.45" y1="528.30" x2="654.45" y2="528.30" stroke="#111" stroke-width="1.3" />
<line x1="647.45" y1="538.60" x2="654.45" y2="538.60" stroke="#111" stroke-width="1.3" />
<line x1="694.80" y1="530.50" x2="694.80" y2="535.20" stroke="#111" stroke-width="1.3" />
<line x1="691.30" y1="530.50" x2="698.30" y2="530.50" stroke="#111" stroke-width="1.3" />
<line x1="691.30" y1="535.20" x2="698.30" y2="535.20" stroke="#111" stroke-width="1.3" />
<line x1="579.55" y1="524.80" x2="579.55" y2="533.20" stroke="#111" stroke-width="1.3" />
<line x1="576.05" y1="524.80" x2="583.05" y2="524.80" stroke="#111" stroke-width="1.3" />
<line x1="576.05" y1="533.20" x2="583.05" y2="533.20" stroke="#111" stroke-width="1.3" />
<line x1="622.90" y1="512.70" x2="622.90" y2="517.80" stroke="#111" stroke-width="1.3" />
<line x1="619.40" y1="512.70" x2="626.40" y2="512.70" stroke="#111" stroke-width="1.3" />
<line x1="619.40" y1="517.80" x2="626.40" y2="517.80" stroke="#111" stroke-width="1.3" />
<line x1="667.20" y1="483.00" x2="667.20" y2="519.90" stroke="#111" stroke-width="1.3" />
<line x1="663.70" y1="483.00" x2="670.70" y2="483.00" stroke="#111" stroke-width="1.3" />
<line x1="663.70" y1="519.90" x2="670.70" y2="519.90" stroke="#111" stroke-width="1.3" />
<line x1="710.60" y1="525.90" x2="710.60" y2="538.00" stroke="#111" stroke-width="1.3" />
<line x1="707.10" y1="525.90" x2="714.10" y2="525.90" stroke="#111" stroke-width="1.3" />
<line x1="707.10" y1="538.00" x2="714.10" y2="538.00" stroke="#111" stroke-width="1.3" />
<line x1="547.10" y1="435.60" x2="547.10" y2="548.80" stroke="#111" stroke-width="1.3" />
<line x1="543.90" y1="435.60" x2="547.10" y2="435.60" stroke="#111" stroke-width="1.3" />
<text x="542.50" y="440.20" font-size="11.3" font-weight="bold" fill="#111" text-anchor="end" stroke="#111" stroke-width="0.2" >5</text>
<line x1="543.90" y1="458.20" x2="547.10" y2="458.20" stroke="#111" stroke-width="1.3" />
<text x="542.50" y="462.80" font-size="11.3" font-weight="bold" fill="#111" text-anchor="end" stroke="#111" stroke-width="0.2" >4</text>
<line x1="543.90" y1="480.60" x2="547.10" y2="480.60" stroke="#111" stroke-width="1.3" />
<text x="542.50" y="485.20" font-size="11.3" font-weight="bold" fill="#111" text-anchor="end" stroke="#111" stroke-width="0.2" >3</text>
<line x1="543.90" y1="503.00" x2="547.10" y2="503.00" stroke="#111" stroke-width="1.3" />
<text x="542.50" y="507.60" font-size="11.3" font-weight="bold" fill="#111" text-anchor="end" stroke="#111" stroke-width="0.2" >2</text>
<line x1="543.90" y1="525.80" x2="547.10" y2="525.80" stroke="#111" stroke-width="1.3" />
<text x="542.50" y="530.40" font-size="11.3" font-weight="bold" fill="#111" text-anchor="end" stroke="#111" stroke-width="0.2" >1</text>
<line x1="543.90" y1="548.20" x2="547.10" y2="548.20" stroke="#111" stroke-width="1.3" />
<text x="542.50" y="552.80" font-size="11.3" font-weight="bold" fill="#111" text-anchor="end" stroke="#111" stroke-width="0.2" >0</text>
<line x1="546.50" y1="548.20" x2="725.60" y2="548.20" stroke="#111" stroke-width="1.3" />
<line x1="571.30" y1="548.20" x2="571.30" y2="551.40" stroke="#111" stroke-width="1.3" />
<line x1="614.30" y1="548.20" x2="614.30" y2="551.40" stroke="#111" stroke-width="1.3" />
<line x1="659.00" y1="548.20" x2="659.00" y2="551.40" stroke="#111" stroke-width="1.3" />
<line x1="702.80" y1="548.20" x2="702.80" y2="551.40" stroke="#111" stroke-width="1.3" />
<line x1="725.60" y1="435.30" x2="725.60" y2="548.80" stroke="#cf2229" stroke-width="2.0" />
<line x1="724.80" y1="435.60" x2="728.20" y2="435.60" stroke="#111" stroke-width="1.3" />
<text x="730.80" y="440.20" font-size="11.3" font-weight="bold" fill="#111" text-anchor="start" stroke="#111" stroke-width="0.2" >5</text>
<line x1="724.80" y1="458.60" x2="728.20" y2="458.60" stroke="#111" stroke-width="1.3" />
<text x="730.80" y="463.20" font-size="11.3" font-weight="bold" fill="#111" text-anchor="start" stroke="#111" stroke-width="0.2" >4</text>
<line x1="724.80" y1="480.70" x2="728.20" y2="480.70" stroke="#111" stroke-width="1.3" />
<text x="730.80" y="485.30" font-size="11.3" font-weight="bold" fill="#111" text-anchor="start" stroke="#111" stroke-width="0.2" >3</text>
<line x1="724.80" y1="503.40" x2="728.20" y2="503.40" stroke="#111" stroke-width="1.3" />
<text x="730.80" y="508.00" font-size="11.3" font-weight="bold" fill="#111" text-anchor="start" stroke="#111" stroke-width="0.2" >2</text>
<line x1="724.80" y1="525.90" x2="728.20" y2="525.90" stroke="#111" stroke-width="1.3" />
<text x="730.80" y="530.50" font-size="11.3" font-weight="bold" fill="#111" text-anchor="start" stroke="#111" stroke-width="0.2" >1</text>
<line x1="724.80" y1="548.30" x2="728.20" y2="548.30" stroke="#111" stroke-width="1.3" />
<text x="730.80" y="552.90" font-size="11.3" font-weight="bold" fill="#111" text-anchor="start" stroke="#111" stroke-width="0.2" >0</text>
<line x1="579.40" y1="524.80" x2="579.40" y2="533.20" stroke="#e6323a" stroke-width="1.25" />
<line x1="577.15" y1="524.80" x2="581.65" y2="524.80" stroke="#e6323a" stroke-width="1.3" />
<line x1="577.15" y1="533.20" x2="581.65" y2="533.20" stroke="#e6323a" stroke-width="1.3" />
<line x1="622.60" y1="490.70" x2="622.60" y2="497.80" stroke="#e6323a" stroke-width="1.25" />
<line x1="620.35" y1="490.70" x2="624.85" y2="490.70" stroke="#e6323a" stroke-width="1.3" />
<line x1="620.35" y1="497.80" x2="624.85" y2="497.80" stroke="#e6323a" stroke-width="1.3" />
<line x1="667.00" y1="448.90" x2="667.00" y2="505.30" stroke="#e6323a" stroke-width="1.25" />
<line x1="664.75" y1="448.90" x2="669.25" y2="448.90" stroke="#e6323a" stroke-width="1.3" />
<line x1="664.75" y1="505.30" x2="669.25" y2="505.30" stroke="#e6323a" stroke-width="1.3" />
<line x1="710.30" y1="516.10" x2="710.30" y2="534.30" stroke="#e6323a" stroke-width="1.25" />
<line x1="708.05" y1="516.10" x2="712.55" y2="516.10" stroke="#e6323a" stroke-width="1.3" />
<line x1="708.05" y1="534.30" x2="712.55" y2="534.30" stroke="#e6323a" stroke-width="1.3" />
<polyline points="579.40,529.50 622.60,494.00 667.00,477.30 710.30,525.50" fill="none" stroke="#d8161c" stroke-width="1.85" stroke-linejoin="round"/>
<circle cx="579.40" cy="529.50" r="2.6" fill="#d8161c"/>
<circle cx="622.60" cy="494.00" r="2.6" fill="#d8161c"/>
<circle cx="667.00" cy="477.30" r="2.6" fill="#d8161c"/>
<circle cx="710.30" cy="525.50" r="2.6" fill="#d8161c"/>
<polyline points="606.80,513.10 606.80,510.90 622.60,510.90 622.60,513.10" fill="none" stroke="#555" stroke-width="1.1"/>
<text x="615.15" y="513.81" font-size="15" font-weight="normal" fill="#222" text-anchor="middle" stroke="#222" stroke-width="0.45" letter-spacing="0.5">**</text>
<polyline points="650.50,482.90 650.50,480.70 667.00,480.70 667.00,482.90" fill="none" stroke="#555" stroke-width="1.1"/>
<text x="659.20" y="483.61" font-size="15" font-weight="normal" fill="#222" text-anchor="middle" stroke="#222" stroke-width="0.45" letter-spacing="0.5">*</text>
<text x="665.30" y="448.11" font-size="11.2" font-weight="bold" fill="#d8161c" text-anchor="middle" stroke="#d8161c" stroke-width="0.2" textLength="12.2" lengthAdjust="spacingAndGlyphs" >##</text>
<text x="638.30" y="436.60" font-size="12.4" font-weight="bold" fill="#111" text-anchor="middle" stroke="#111" stroke-width="0.2" textLength="52.5" lengthAdjust="spacingAndGlyphs" >Cyp2b10</text>
<text x="528.20" y="489.00" font-size="12" font-weight="bold" fill="#111" text-anchor="middle" stroke="#111" stroke-width="0.1" textLength="78.4" lengthAdjust="spacingAndGlyphs" transform="rotate(-90 528.20 489.00)" >Relative mRNA</text>
<text x="747.80" y="489.50" font-size="12.5" font-weight="bold" fill="#111" text-anchor="middle" stroke="#111" stroke-width="0.1" textLength="65.3" lengthAdjust="spacingAndGlyphs" transform="rotate(90 747.80 489.50)" >Fold Change</text>
<text x="571.30" y="564.60" font-size="10.3" font-weight="bold" fill="#111" text-anchor="middle" stroke="#111" stroke-width="0.2" >0</text>
<text x="614.30" y="564.60" font-size="10.3" font-weight="bold" fill="#111" text-anchor="middle" stroke="#111" stroke-width="0.2" >15</text>
<text x="659.00" y="564.60" font-size="10.3" font-weight="bold" fill="#111" text-anchor="middle" stroke="#111" stroke-width="0.2" >25</text>
<text x="702.80" y="564.60" font-size="10.3" font-weight="bold" fill="#111" text-anchor="middle" stroke="#111" stroke-width="0.2" >50</text>
<text x="525.50" y="564.60" font-size="9.1" font-weight="bold" fill="#111" text-anchor="start" stroke="#111" stroke-width="0.2" textLength="19" lengthAdjust="spacingAndGlyphs" >GCG</text>
<text x="547.00" y="563.80" font-size="6.3" font-weight="bold" fill="#111" text-anchor="start" stroke="#111" stroke-width="0.1" textLength="14.6" lengthAdjust="spacingAndGlyphs" >(nM)</text>
<rect x="50.60" y="649.90" width="14.10" height="55.00" fill="#fff" stroke="#111" stroke-width="1.4"/>
<rect x="93.00" y="654.30" width="14.30" height="50.60" fill="#fff" stroke="#111" stroke-width="1.4"/>
<rect x="134.80" y="655.30" width="14.70" height="49.60" fill="#fff" stroke="#111" stroke-width="1.4"/>
<rect x="177.80" y="659.50" width="14.30" height="45.40" fill="#fff" stroke="#111" stroke-width="1.4"/>
<rect x="65.90" y="664.20" width="14.30" height="40.70" fill="#c4c4c4" stroke="#111" stroke-width="1.4"/>
<rect x="108.20" y="640.70" width="14.40" height="64.20" fill="#c4c4c4" stroke="#111" stroke-width="1.4"/>
<rect x="150.70" y="661.40" width="14.30" height="43.50" fill="#c4c4c4" stroke="#111" stroke-width="1.4"/>
<rect x="193.10" y="676.70" width="14.30" height="28.20" fill="#c4c4c4" stroke="#111" stroke-width="1.4"/>
<line x1="57.65" y1="636.50" x2="57.65" y2="662.30" stroke="#111" stroke-width="1.3" />
<line x1="54.15" y1="636.50" x2="61.15" y2="636.50" stroke="#111" stroke-width="1.3" />
<line x1="54.15" y1="662.30" x2="61.15" y2="662.30" stroke="#111" stroke-width="1.3" />
<line x1="100.15" y1="636.50" x2="100.15" y2="670.90" stroke="#111" stroke-width="1.3" />
<line x1="96.65" y1="636.50" x2="103.65" y2="636.50" stroke="#111" stroke-width="1.3" />
<line x1="96.65" y1="670.90" x2="103.65" y2="670.90" stroke="#111" stroke-width="1.3" />
<line x1="142.15" y1="641.70" x2="142.15" y2="667.70" stroke="#111" stroke-width="1.3" />
<line x1="138.65" y1="641.70" x2="145.65" y2="641.70" stroke="#111" stroke-width="1.3" />
<line x1="138.65" y1="667.70" x2="145.65" y2="667.70" stroke="#111" stroke-width="1.3" />
<line x1="184.95" y1="651.80" x2="184.95" y2="666.20" stroke="#111" stroke-width="1.3" />
<line x1="181.45" y1="651.80" x2="188.45" y2="651.80" stroke="#111" stroke-width="1.3" />
<line x1="181.45" y1="666.20" x2="188.45" y2="666.20" stroke="#111" stroke-width="1.3" />
<line x1="73.05" y1="661.40" x2="73.05" y2="667.50" stroke="#111" stroke-width="1.3" />
<line x1="69.55" y1="661.40" x2="76.55" y2="661.40" stroke="#111" stroke-width="1.3" />
<line x1="69.55" y1="667.50" x2="76.55" y2="667.50" stroke="#111" stroke-width="1.3" />
<line x1="115.40" y1="621.30" x2="115.40" y2="658.50" stroke="#111" stroke-width="1.3" />
<line x1="111.90" y1="621.30" x2="118.90" y2="621.30" stroke="#111" stroke-width="1.3" />
<line x1="111.90" y1="658.50" x2="118.90" y2="658.50" stroke="#111" stroke-width="1.3" />
<line x1="157.85" y1="656.60" x2="157.85" y2="665.20" stroke="#111" stroke-width="1.3" />
<line x1="154.35" y1="656.60" x2="161.35" y2="656.60" stroke="#111" stroke-width="1.3" />
<line x1="154.35" y1="665.20" x2="161.35" y2="665.20" stroke="#111" stroke-width="1.3" />
<line x1="200.25" y1="663.90" x2="200.25" y2="688.10" stroke="#111" stroke-width="1.3" />
<line x1="196.75" y1="663.90" x2="203.75" y2="663.90" stroke="#111" stroke-width="1.3" />
<line x1="196.75" y1="688.10" x2="203.75" y2="688.10" stroke="#111" stroke-width="1.3" />
<line x1="41.00" y1="594.00" x2="41.00" y2="705.50" stroke="#111" stroke-width="1.3" />
<line x1="37.80" y1="594.00" x2="41.00" y2="594.00" stroke="#111" stroke-width="1.3" />
<text x="36.40" y="598.60" font-size="11.3" font-weight="bold" fill="#111" text-anchor="end" stroke="#111" stroke-width="0.2" >2.0</text>
<line x1="37.80" y1="621.70" x2="41.00" y2="621.70" stroke="#111" stroke-width="1.3" />
<text x="36.40" y="626.30" font-size="11.3" font-weight="bold" fill="#111" text-anchor="end" stroke="#111" stroke-width="0.2" >1.5</text>
<line x1="37.80" y1="649.30" x2="41.00" y2="649.30" stroke="#111" stroke-width="1.3" />
<text x="36.40" y="653.90" font-size="11.3" font-weight="bold" fill="#111" text-anchor="end" stroke="#111" stroke-width="0.2" >1.0</text>
<line x1="37.80" y1="677.20" x2="41.00" y2="677.20" stroke="#111" stroke-width="1.3" />
<text x="36.40" y="681.80" font-size="11.3" font-weight="bold" fill="#111" text-anchor="end" stroke="#111" stroke-width="0.2" >0.5</text>
<line x1="37.80" y1="704.90" x2="41.00" y2="704.90" stroke="#111" stroke-width="1.3" />
<text x="36.40" y="709.50" font-size="11.3" font-weight="bold" fill="#111" text-anchor="end" stroke="#111" stroke-width="0.2" >0.0</text>
<line x1="40.40" y1="704.90" x2="215.60" y2="704.90" stroke="#111" stroke-width="1.3" />
<line x1="64.90" y1="704.90" x2="64.90" y2="708.10" stroke="#111" stroke-width="1.3" />
<line x1="107.90" y1="704.90" x2="107.90" y2="708.10" stroke="#111" stroke-width="1.3" />
<line x1="149.70" y1="704.90" x2="149.70" y2="708.10" stroke="#111" stroke-width="1.3" />
<line x1="192.50" y1="704.90" x2="192.50" y2="708.10" stroke="#111" stroke-width="1.3" />
<line x1="215.60" y1="593.70" x2="215.60" y2="705.50" stroke="#cf2229" stroke-width="2.0" />
<line x1="214.80" y1="594.00" x2="218.20" y2="594.00" stroke="#111" stroke-width="1.3" />
<text x="220.80" y="598.60" font-size="11.3" font-weight="bold" fill="#111" text-anchor="start" stroke="#111" stroke-width="0.2" >2.0</text>
<line x1="214.80" y1="621.70" x2="218.20" y2="621.70" stroke="#111" stroke-width="1.3" />
<text x="220.80" y="626.30" font-size="11.3" font-weight="bold" fill="#111" text-anchor="start" stroke="#111" stroke-width="0.2" >1.5</text>
<line x1="214.80" y1="649.40" x2="218.20" y2="649.40" stroke="#111" stroke-width="1.3" />
<text x="220.80" y="654.00" font-size="11.3" font-weight="bold" fill="#111" text-anchor="start" stroke="#111" stroke-width="0.2" >1.0</text>
<line x1="214.80" y1="677.20" x2="218.20" y2="677.20" stroke="#111" stroke-width="1.3" />
<text x="220.80" y="681.80" font-size="11.3" font-weight="bold" fill="#111" text-anchor="start" stroke="#111" stroke-width="0.2" >0.5</text>
<line x1="214.80" y1="704.90" x2="218.20" y2="704.90" stroke="#111" stroke-width="1.3" />
<text x="220.80" y="709.50" font-size="11.3" font-weight="bold" fill="#111" text-anchor="start" stroke="#111" stroke-width="0.2" >0.0</text>
<line x1="73.10" y1="661.40" x2="73.10" y2="667.50" stroke="#e6323a" stroke-width="1.25" />
<line x1="70.85" y1="661.40" x2="75.35" y2="661.40" stroke="#e6323a" stroke-width="1.3" />
<line x1="70.85" y1="667.50" x2="75.35" y2="667.50" stroke="#e6323a" stroke-width="1.3" />
<line x1="115.10" y1="614.60" x2="115.10" y2="654.70" stroke="#e6323a" stroke-width="1.25" />
<line x1="112.85" y1="614.60" x2="117.35" y2="614.60" stroke="#e6323a" stroke-width="1.3" />
<line x1="112.85" y1="654.70" x2="117.35" y2="654.70" stroke="#e6323a" stroke-width="1.3" />
<line x1="157.70" y1="651.50" x2="157.70" y2="661.40" stroke="#e6323a" stroke-width="1.25" />
<line x1="155.45" y1="651.50" x2="159.95" y2="651.50" stroke="#e6323a" stroke-width="1.3" />
<line x1="155.45" y1="661.40" x2="159.95" y2="661.40" stroke="#e6323a" stroke-width="1.3" />
<line x1="199.80" y1="655.70" x2="199.80" y2="685.30" stroke="#e6323a" stroke-width="1.25" />
<line x1="197.55" y1="655.70" x2="202.05" y2="655.70" stroke="#e6323a" stroke-width="1.3" />
<line x1="197.55" y1="685.30" x2="202.05" y2="685.30" stroke="#e6323a" stroke-width="1.3" />
<polyline points="73.10,664.20 115.10,634.30 157.70,656.60 199.80,670.60" fill="none" stroke="#d8161c" stroke-width="1.85" stroke-linejoin="round"/>
<circle cx="73.10" cy="664.20" r="2.6" fill="#d8161c"/>
<circle cx="115.10" cy="634.30" r="2.6" fill="#d8161c"/>
<circle cx="157.70" cy="656.60" r="2.6" fill="#d8161c"/>
<circle cx="199.80" cy="670.60" r="2.6" fill="#d8161c"/>
<text x="131.75" y="595.30" font-size="12.4" font-weight="bold" fill="#111" text-anchor="middle" stroke="#111" stroke-width="0.2" textLength="44.3" lengthAdjust="spacingAndGlyphs" >Cyp8b1</text>
<text x="19.10" y="646.50" font-size="12" font-weight="bold" fill="#111" text-anchor="middle" stroke="#111" stroke-width="0.1" textLength="77.3" lengthAdjust="spacingAndGlyphs" transform="rotate(-90 19.10 646.50)" >Relative mRNA</text>
<text x="242.00" y="647.00" font-size="12.5" font-weight="bold" fill="#111" text-anchor="middle" stroke="#111" stroke-width="0.1" textLength="64.9" lengthAdjust="spacingAndGlyphs" transform="rotate(90 242.00 647.00)" >Fold Change</text>
<text x="64.90" y="721.50" font-size="10.3" font-weight="bold" fill="#111" text-anchor="middle" stroke="#111" stroke-width="0.2" >0</text>
<text x="107.90" y="721.50" font-size="10.3" font-weight="bold" fill="#111" text-anchor="middle" stroke="#111" stroke-width="0.2" >15</text>
<text x="149.70" y="721.50" font-size="10.3" font-weight="bold" fill="#111" text-anchor="middle" stroke="#111" stroke-width="0.2" >25</text>
<text x="192.50" y="721.50" font-size="10.3" font-weight="bold" fill="#111" text-anchor="middle" stroke="#111" stroke-width="0.2" >50</text>
<text x="19.00" y="721.50" font-size="9.1" font-weight="bold" fill="#111" text-anchor="start" stroke="#111" stroke-width="0.2" textLength="19" lengthAdjust="spacingAndGlyphs" >GCG</text>
<text x="40.60" y="720.70" font-size="6.3" font-weight="bold" fill="#111" text-anchor="start" stroke="#111" stroke-width="0.1" textLength="14.6" lengthAdjust="spacingAndGlyphs" >(nM)</text>
<rect x="301.60" y="662.30" width="14.70" height="43.20" fill="#fff" stroke="#111" stroke-width="1.4"/>
<rect x="343.90" y="668.90" width="14.70" height="36.60" fill="#fff" stroke="#111" stroke-width="1.4"/>
<rect x="385.80" y="668.60" width="14.40" height="36.90" fill="#fff" stroke="#111" stroke-width="1.4"/>
<rect x="427.80" y="666.10" width="14.40" height="39.40" fill="#fff" stroke="#111" stroke-width="1.4"/>
<rect x="317.20" y="644.50" width="14.30" height="61.00" fill="#d4d4d4" stroke="#111" stroke-width="1.4"/>
<rect x="359.60" y="636.50" width="14.30" height="69.00" fill="#d4d4d4" stroke="#111" stroke-width="1.4"/>
<rect x="401.50" y="629.90" width="14.30" height="75.60" fill="#d4d4d4" stroke="#111" stroke-width="1.4"/>
<rect x="443.50" y="664.20" width="14.30" height="41.30" fill="#d4d4d4" stroke="#111" stroke-width="1.4"/>
<line x1="308.95" y1="658.40" x2="308.95" y2="664.70" stroke="#111" stroke-width="1.3" />
<line x1="305.45" y1="658.40" x2="312.45" y2="658.40" stroke="#111" stroke-width="1.3" />
<line x1="305.45" y1="664.70" x2="312.45" y2="664.70" stroke="#111" stroke-width="1.3" />
<line x1="351.25" y1="662.30" x2="351.25" y2="674.30" stroke="#111" stroke-width="1.3" />
<line x1="347.75" y1="662.30" x2="354.75" y2="662.30" stroke="#111" stroke-width="1.3" />
<line x1="347.75" y1="674.30" x2="354.75" y2="674.30" stroke="#111" stroke-width="1.3" />
<line x1="393.00" y1="662.90" x2="393.00" y2="673.40" stroke="#111" stroke-width="1.3" />
<line x1="389.50" y1="662.90" x2="396.50" y2="662.90" stroke="#111" stroke-width="1.3" />
<line x1="389.50" y1="673.40" x2="396.50" y2="673.40" stroke="#111" stroke-width="1.3" />
<line x1="435.00" y1="662.70" x2="435.00" y2="669.60" stroke="#111" stroke-width="1.3" />
<line x1="431.50" y1="662.70" x2="438.50" y2="662.70" stroke="#111" stroke-width="1.3" />
<line x1="431.50" y1="669.60" x2="438.50" y2="669.60" stroke="#111" stroke-width="1.3" />
<line x1="366.75" y1="625.60" x2="366.75" y2="646.40" stroke="#111" stroke-width="1.3" />
<line x1="363.25" y1="625.60" x2="370.25" y2="625.60" stroke="#111" stroke-width="1.3" />
<line x1="363.25" y1="646.40" x2="370.25" y2="646.40" stroke="#111" stroke-width="1.3" />
<line x1="408.65" y1="625.70" x2="408.65" y2="632.70" stroke="#111" stroke-width="1.3" />
<line x1="405.15" y1="625.70" x2="412.15" y2="625.70" stroke="#111" stroke-width="1.3" />
<line x1="405.15" y1="632.70" x2="412.15" y2="632.70" stroke="#111" stroke-width="1.3" />
<line x1="450.65" y1="655.00" x2="450.65" y2="673.20" stroke="#111" stroke-width="1.3" />
<line x1="447.15" y1="655.00" x2="454.15" y2="655.00" stroke="#111" stroke-width="1.3" />
<line x1="447.15" y1="673.20" x2="454.15" y2="673.20" stroke="#111" stroke-width="1.3" />
<line x1="294.00" y1="596.10" x2="294.00" y2="706.10" stroke="#111" stroke-width="1.3" />
<line x1="290.80" y1="596.10" x2="294.00" y2="596.10" stroke="#111" stroke-width="1.3" />
<text x="289.40" y="600.70" font-size="11.3" font-weight="bold" fill="#111" text-anchor="end" stroke="#111" stroke-width="0.2" >2.5</text>
<line x1="290.80" y1="618.00" x2="294.00" y2="618.00" stroke="#111" stroke-width="1.3" />
<text x="289.40" y="622.60" font-size="11.3" font-weight="bold" fill="#111" text-anchor="end" stroke="#111" stroke-width="0.2" >2.0</text>
<line x1="290.80" y1="640.00" x2="294.00" y2="640.00" stroke="#111" stroke-width="1.3" />
<text x="289.40" y="644.60" font-size="11.3" font-weight="bold" fill="#111" text-anchor="end" stroke="#111" stroke-width="0.2" >1.5</text>
<line x1="290.80" y1="661.70" x2="294.00" y2="661.70" stroke="#111" stroke-width="1.3" />
<text x="289.40" y="666.30" font-size="11.3" font-weight="bold" fill="#111" text-anchor="end" stroke="#111" stroke-width="0.2" >1.0</text>
<line x1="290.80" y1="683.60" x2="294.00" y2="683.60" stroke="#111" stroke-width="1.3" />
<text x="289.40" y="688.20" font-size="11.3" font-weight="bold" fill="#111" text-anchor="end" stroke="#111" stroke-width="0.2" >0.5</text>
<line x1="290.80" y1="705.60" x2="294.00" y2="705.60" stroke="#111" stroke-width="1.3" />
<text x="289.40" y="710.20" font-size="11.3" font-weight="bold" fill="#111" text-anchor="end" stroke="#111" stroke-width="0.2" >0.0</text>
<line x1="293.40" y1="705.50" x2="465.10" y2="705.50" stroke="#111" stroke-width="1.3" />
<line x1="316.70" y1="705.50" x2="316.70" y2="708.70" stroke="#111" stroke-width="1.3" />
<line x1="359.20" y1="705.50" x2="359.20" y2="708.70" stroke="#111" stroke-width="1.3" />
<line x1="400.50" y1="705.50" x2="400.50" y2="708.70" stroke="#111" stroke-width="1.3" />
<line x1="442.50" y1="705.50" x2="442.50" y2="708.70" stroke="#111" stroke-width="1.3" />
<line x1="465.10" y1="596.20" x2="465.10" y2="706.10" stroke="#cf2229" stroke-width="2.0" />
<line x1="464.30" y1="596.50" x2="467.70" y2="596.50" stroke="#111" stroke-width="1.3" />
<text x="470.30" y="601.10" font-size="11.3" font-weight="bold" fill="#111" text-anchor="start" stroke="#111" stroke-width="0.2" >2.5</text>
<line x1="464.30" y1="618.00" x2="467.70" y2="618.00" stroke="#111" stroke-width="1.3" />
<text x="470.30" y="622.60" font-size="11.3" font-weight="bold" fill="#111" text-anchor="start" stroke="#111" stroke-width="0.2" >2.0</text>
<line x1="464.30" y1="640.00" x2="467.70" y2="640.00" stroke="#111" stroke-width="1.3" />
<text x="470.30" y="644.60" font-size="11.3" font-weight="bold" fill="#111" text-anchor="start" stroke="#111" stroke-width="0.2" >1.5</text>
<line x1="464.30" y1="661.70" x2="467.70" y2="661.70" stroke="#111" stroke-width="1.3" />
<text x="470.30" y="666.30" font-size="11.3" font-weight="bold" fill="#111" text-anchor="start" stroke="#111" stroke-width="0.2" >1.0</text>
<line x1="464.30" y1="683.70" x2="467.70" y2="683.70" stroke="#111" stroke-width="1.3" />
<text x="470.30" y="688.30" font-size="11.3" font-weight="bold" fill="#111" text-anchor="start" stroke="#111" stroke-width="0.2" >0.5</text>
<line x1="464.30" y1="705.30" x2="467.70" y2="705.30" stroke="#111" stroke-width="1.3" />
<text x="470.30" y="709.90" font-size="11.3" font-weight="bold" fill="#111" text-anchor="start" stroke="#111" stroke-width="0.2" >0.0</text>
<line x1="324.90" y1="628.50" x2="324.90" y2="659.40" stroke="#e6323a" stroke-width="1.25" />
<line x1="322.65" y1="628.50" x2="327.15" y2="628.50" stroke="#e6323a" stroke-width="1.3" />
<line x1="322.65" y1="659.40" x2="327.15" y2="659.40" stroke="#e6323a" stroke-width="1.3" />
<line x1="366.40" y1="610.40" x2="366.40" y2="635.60" stroke="#e6323a" stroke-width="1.25" />
<line x1="364.15" y1="610.40" x2="368.65" y2="610.40" stroke="#e6323a" stroke-width="1.3" />
<line x1="364.15" y1="635.60" x2="368.65" y2="635.60" stroke="#e6323a" stroke-width="1.3" />
<line x1="408.20" y1="612.00" x2="408.20" y2="619.00" stroke="#e6323a" stroke-width="1.25" />
<line x1="405.95" y1="612.00" x2="410.45" y2="612.00" stroke="#e6323a" stroke-width="1.3" />
<line x1="405.95" y1="619.00" x2="410.45" y2="619.00" stroke="#e6323a" stroke-width="1.3" />
<line x1="450.20" y1="649.00" x2="450.20" y2="670.90" stroke="#e6323a" stroke-width="1.25" />
<line x1="447.95" y1="649.00" x2="452.45" y2="649.00" stroke="#e6323a" stroke-width="1.3" />
<line x1="447.95" y1="670.90" x2="452.45" y2="670.90" stroke="#e6323a" stroke-width="1.3" />
<polyline points="324.90,644.10 366.40,623.20 408.20,615.50 450.20,659.50" fill="none" stroke="#d8161c" stroke-width="1.85" stroke-linejoin="round"/>
<circle cx="324.90" cy="644.10" r="2.6" fill="#d8161c"/>
<circle cx="366.40" cy="623.20" r="2.6" fill="#d8161c"/>
<circle cx="408.20" cy="615.50" r="2.6" fill="#d8161c"/>
<circle cx="450.20" cy="659.50" r="2.6" fill="#d8161c"/>
<polyline points="350.20,624.80 350.20,622.60 365.50,622.60 365.50,624.80" fill="none" stroke="#555" stroke-width="1.1"/>
<text x="358.30" y="625.51" font-size="15" font-weight="normal" fill="#222" text-anchor="middle" stroke="#222" stroke-width="0.45" letter-spacing="0.5">**</text>
<polyline points="392.50,626.70 392.50,624.50 408.20,624.50 408.20,626.70" fill="none" stroke="#555" stroke-width="1.1"/>
<text x="400.80" y="627.41" font-size="15" font-weight="normal" fill="#222" text-anchor="middle" stroke="#222" stroke-width="0.45" letter-spacing="0.5">***</text>
<text x="408.20" y="609.70" font-size="10" font-weight="bold" fill="#d8161c" text-anchor="middle" stroke="#d8161c" stroke-width="0.2" textLength="5.6" lengthAdjust="spacingAndGlyphs" >#</text>
<text x="380.60" y="599.00" font-size="12.4" font-weight="bold" fill="#111" text-anchor="middle" stroke="#111" stroke-width="0.2" textLength="42.6" lengthAdjust="spacingAndGlyphs" >Cyp2a5</text>
<text x="269.20" y="648.00" font-size="12" font-weight="bold" fill="#111" text-anchor="middle" stroke="#111" stroke-width="0.1" textLength="76.3" lengthAdjust="spacingAndGlyphs" transform="rotate(-90 269.20 648.00)" >Relative mRNA</text>
<text x="490.60" y="648.00" font-size="12.5" font-weight="bold" fill="#111" text-anchor="middle" stroke="#111" stroke-width="0.1" textLength="63" lengthAdjust="spacingAndGlyphs" transform="rotate(90 490.60 648.00)" >Fold Change</text>
<text x="316.70" y="722.00" font-size="10.3" font-weight="bold" fill="#111" text-anchor="middle" stroke="#111" stroke-width="0.2" >0</text>
<text x="359.20" y="722.00" font-size="10.3" font-weight="bold" fill="#111" text-anchor="middle" stroke="#111" stroke-width="0.2" >15</text>
<text x="400.50" y="722.00" font-size="10.3" font-weight="bold" fill="#111" text-anchor="middle" stroke="#111" stroke-width="0.2" >25</text>
<text x="442.50" y="722.00" font-size="10.3" font-weight="bold" fill="#111" text-anchor="middle" stroke="#111" stroke-width="0.2" >50</text>
<text x="272.00" y="722.00" font-size="9.1" font-weight="bold" fill="#111" text-anchor="start" stroke="#111" stroke-width="0.2" textLength="19" lengthAdjust="spacingAndGlyphs" >GCG</text>
<text x="293.50" y="721.20" font-size="6.3" font-weight="bold" fill="#111" text-anchor="start" stroke="#111" stroke-width="0.1" textLength="14.6" lengthAdjust="spacingAndGlyphs" >(nM)</text>
<rect x="556.40" y="652.60" width="13.80" height="52.80" fill="#fff" stroke="#111" stroke-width="1.4"/>
<rect x="598.80" y="654.40" width="13.80" height="51.00" fill="#fff" stroke="#111" stroke-width="1.4"/>
<rect x="640.50" y="654.40" width="13.80" height="51.00" fill="#fff" stroke="#111" stroke-width="1.4"/>
<rect x="682.80" y="653.50" width="13.80" height="51.90" fill="#fff" stroke="#111" stroke-width="1.4"/>
<rect x="571.90" y="646.10" width="13.80" height="59.30" fill="#d4d4d4" stroke="#111" stroke-width="1.4"/>
<rect x="613.90" y="652.20" width="13.80" height="53.20" fill="#d4d4d4" stroke="#111" stroke-width="1.4"/>
<rect x="655.20" y="644.30" width="14.00" height="61.10" fill="#d4d4d4" stroke="#111" stroke-width="1.4"/>
<rect x="697.20" y="661.40" width="14.30" height="44.00" fill="#d4d4d4" stroke="#111" stroke-width="1.4"/>
<line x1="563.30" y1="645.20" x2="563.30" y2="659.60" stroke="#111" stroke-width="1.3" />
<line x1="559.80" y1="645.20" x2="566.80" y2="645.20" stroke="#111" stroke-width="1.3" />
<line x1="559.80" y1="659.60" x2="566.80" y2="659.60" stroke="#111" stroke-width="1.3" />
<line x1="605.70" y1="642.80" x2="605.70" y2="664.90" stroke="#111" stroke-width="1.3" />
<line x1="602.20" y1="642.80" x2="609.20" y2="642.80" stroke="#111" stroke-width="1.3" />
<line x1="602.20" y1="664.90" x2="609.20" y2="664.90" stroke="#111" stroke-width="1.3" />
<line x1="647.40" y1="647.40" x2="647.40" y2="660.00" stroke="#111" stroke-width="1.3" />
<line x1="643.90" y1="647.40" x2="650.90" y2="647.40" stroke="#111" stroke-width="1.3" />
<line x1="643.90" y1="660.00" x2="650.90" y2="660.00" stroke="#111" stroke-width="1.3" />
<line x1="689.70" y1="642.50" x2="689.70" y2="663.60" stroke="#111" stroke-width="1.3" />
<line x1="686.20" y1="642.50" x2="693.20" y2="642.50" stroke="#111" stroke-width="1.3" />
<line x1="686.20" y1="663.60" x2="693.20" y2="663.60" stroke="#111" stroke-width="1.3" />
<line x1="578.80" y1="641.50" x2="578.80" y2="649.80" stroke="#111" stroke-width="1.3" />
<line x1="575.30" y1="641.50" x2="582.30" y2="641.50" stroke="#111" stroke-width="1.3" />
<line x1="575.30" y1="649.80" x2="582.30" y2="649.80" stroke="#111" stroke-width="1.3" />
<line x1="620.80" y1="643.40" x2="620.80" y2="659.40" stroke="#111" stroke-width="1.3" />
<line x1="617.30" y1="643.40" x2="624.30" y2="643.40" stroke="#111" stroke-width="1.3" />
<line x1="617.30" y1="659.40" x2="624.30" y2="659.40" stroke="#111" stroke-width="1.3" />
<line x1="662.20" y1="633.30" x2="662.20" y2="653.50" stroke="#111" stroke-width="1.3" />
<line x1="658.70" y1="633.30" x2="665.70" y2="633.30" stroke="#111" stroke-width="1.3" />
<line x1="658.70" y1="653.50" x2="665.70" y2="653.50" stroke="#111" stroke-width="1.3" />
<line x1="704.35" y1="648.00" x2="704.35" y2="674.30" stroke="#111" stroke-width="1.3" />
<line x1="700.85" y1="648.00" x2="707.85" y2="648.00" stroke="#111" stroke-width="1.3" />
<line x1="700.85" y1="674.30" x2="707.85" y2="674.30" stroke="#111" stroke-width="1.3" />
<line x1="548.00" y1="599.20" x2="548.00" y2="706.00" stroke="#111" stroke-width="1.3" />
<line x1="544.80" y1="599.20" x2="548.00" y2="599.20" stroke="#111" stroke-width="1.3" />
<text x="543.40" y="603.80" font-size="11.3" font-weight="bold" fill="#111" text-anchor="end" stroke="#111" stroke-width="0.2" >1.5</text>
<line x1="544.80" y1="652.20" x2="548.00" y2="652.20" stroke="#111" stroke-width="1.3" />
<text x="543.40" y="656.80" font-size="11.3" font-weight="bold" fill="#111" text-anchor="end" stroke="#111" stroke-width="0.2" >1.0</text>
<line x1="544.80" y1="705.40" x2="548.00" y2="705.40" stroke="#111" stroke-width="1.3" />
<text x="543.40" y="710.00" font-size="11.3" font-weight="bold" fill="#111" text-anchor="end" stroke="#111" stroke-width="0.2" >0.5</text>
<line x1="547.40" y1="705.40" x2="720.20" y2="705.40" stroke="#111" stroke-width="1.3" />
<line x1="570.60" y1="705.40" x2="570.60" y2="708.60" stroke="#111" stroke-width="1.3" />
<line x1="613.00" y1="705.40" x2="613.00" y2="708.60" stroke="#111" stroke-width="1.3" />
<line x1="654.50" y1="705.40" x2="654.50" y2="708.60" stroke="#111" stroke-width="1.3" />
<line x1="696.60" y1="705.40" x2="696.60" y2="708.60" stroke="#111" stroke-width="1.3" />
<line x1="720.20" y1="598.90" x2="720.20" y2="706.00" stroke="#cf2229" stroke-width="2.0" />
<line x1="719.40" y1="599.20" x2="722.80" y2="599.20" stroke="#111" stroke-width="1.3" />
<text x="725.40" y="603.80" font-size="11.3" font-weight="bold" fill="#111" text-anchor="start" stroke="#111" stroke-width="0.2" >1.5</text>
<line x1="719.40" y1="652.20" x2="722.80" y2="652.20" stroke="#111" stroke-width="1.3" />
<text x="725.40" y="656.80" font-size="11.3" font-weight="bold" fill="#111" text-anchor="start" stroke="#111" stroke-width="0.2" >1.0</text>
<line x1="719.40" y1="705.40" x2="722.80" y2="705.40" stroke="#111" stroke-width="1.3" />
<text x="725.40" y="710.00" font-size="11.3" font-weight="bold" fill="#111" text-anchor="start" stroke="#111" stroke-width="0.2" >0.5</text>
<line x1="578.50" y1="641.50" x2="578.50" y2="649.80" stroke="#e6323a" stroke-width="1.25" />
<line x1="576.25" y1="641.50" x2="580.75" y2="641.50" stroke="#e6323a" stroke-width="1.3" />
<line x1="576.25" y1="649.80" x2="580.75" y2="649.80" stroke="#e6323a" stroke-width="1.3" />
<line x1="620.30" y1="643.00" x2="620.30" y2="659.00" stroke="#e6323a" stroke-width="1.25" />
<line x1="618.05" y1="643.00" x2="622.55" y2="643.00" stroke="#e6323a" stroke-width="1.3" />
<line x1="618.05" y1="659.00" x2="622.55" y2="659.00" stroke="#e6323a" stroke-width="1.3" />
<line x1="662.80" y1="631.40" x2="662.80" y2="652.60" stroke="#e6323a" stroke-width="1.25" />
<line x1="660.55" y1="631.40" x2="665.05" y2="631.40" stroke="#e6323a" stroke-width="1.3" />
<line x1="660.55" y1="652.60" x2="665.05" y2="652.60" stroke="#e6323a" stroke-width="1.3" />
<line x1="704.50" y1="648.00" x2="704.50" y2="674.30" stroke="#e6323a" stroke-width="1.25" />
<line x1="702.25" y1="648.00" x2="706.75" y2="648.00" stroke="#e6323a" stroke-width="1.3" />
<line x1="702.25" y1="674.30" x2="706.75" y2="674.30" stroke="#e6323a" stroke-width="1.3" />
<polyline points="578.50,645.60 620.30,649.80 662.80,642.10 704.50,660.00" fill="none" stroke="#d8161c" stroke-width="1.85" stroke-linejoin="round"/>
<circle cx="578.50" cy="645.60" r="2.6" fill="#d8161c"/>
<circle cx="620.30" cy="649.80" r="2.6" fill="#d8161c"/>
<circle cx="662.80" cy="642.10" r="2.6" fill="#d8161c"/>
<circle cx="704.50" cy="660.00" r="2.6" fill="#d8161c"/>
<text x="636.70" y="598.60" font-size="12.4" font-weight="bold" fill="#111" text-anchor="middle" stroke="#111" stroke-width="0.2" textLength="39.3" lengthAdjust="spacingAndGlyphs" >Osgin1</text>
<text x="526.40" y="649.50" font-size="12" font-weight="bold" fill="#111" text-anchor="middle" stroke="#111" stroke-width="0.1" textLength="75.7" lengthAdjust="spacingAndGlyphs" transform="rotate(-90 526.40 649.50)" >Relative mRNA</text>
<text x="745.30" y="649.40" font-size="12.5" font-weight="bold" fill="#111" text-anchor="middle" stroke="#111" stroke-width="0.1" textLength="67.2" lengthAdjust="spacingAndGlyphs" transform="rotate(90 745.30 649.40)" >Fold chanage</text>
<text x="570.60" y="722.00" font-size="10.3" font-weight="bold" fill="#111" text-anchor="middle" stroke="#111" stroke-width="0.2" >0</text>
<text x="613.00" y="722.00" font-size="10.3" font-weight="bold" fill="#111" text-anchor="middle" stroke="#111" stroke-width="0.2" >15</text>
<text x="654.50" y="722.00" font-size="10.3" font-weight="bold" fill="#111" text-anchor="middle" stroke="#111" stroke-width="0.2" >25</text>
<text x="696.60" y="722.00" font-size="10.3" font-weight="bold" fill="#111" text-anchor="middle" stroke="#111" stroke-width="0.2" >50</text>
<text x="527.40" y="722.00" font-size="9.1" font-weight="bold" fill="#111" text-anchor="start" stroke="#111" stroke-width="0.2" textLength="17.4" lengthAdjust="spacingAndGlyphs" >GCG</text>
<text x="547.60" y="721.20" font-size="6.3" font-weight="bold" fill="#111" text-anchor="start" stroke="#111" stroke-width="0.1" textLength="13.8" lengthAdjust="spacingAndGlyphs" >(nM)</text>
</svg>
</body></html>
